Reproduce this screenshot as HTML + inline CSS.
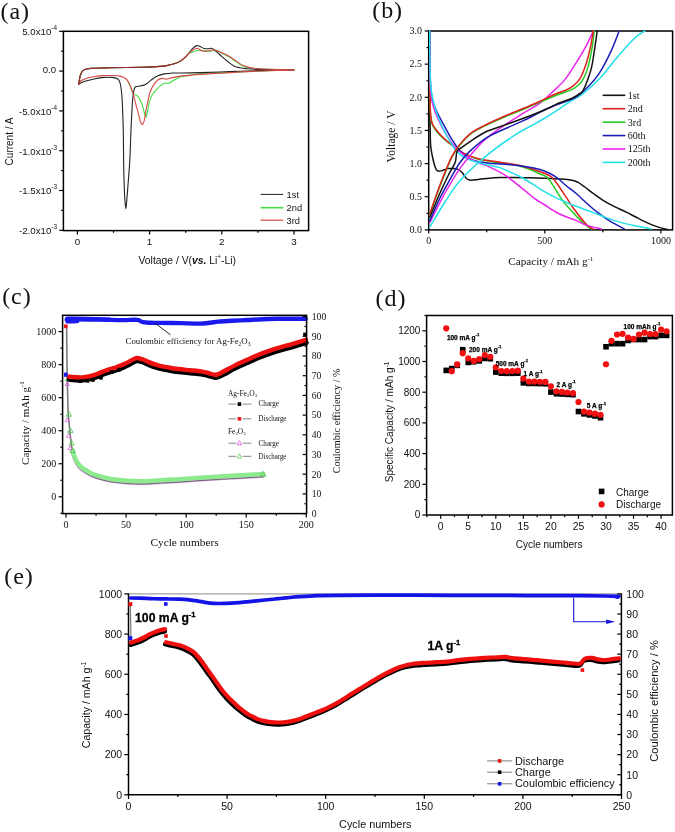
<!DOCTYPE html>
<html><head><meta charset="utf-8"><title>figure</title>
<style>html,body{margin:0;padding:0;background:#fff;}svg{display:block;will-change:transform;filter:blur(0.3px);}</style></head>
<body><svg width="675" height="832" viewBox="0 0 675 832">
<rect x="0" y="0" width="675" height="832" fill="#fff"/>
<text x="0.5" y="18.5" font-family='"Liberation Serif", serif' font-size="24" text-anchor="start" font-weight="normal" fill="#111" letter-spacing="0.9">(a)</text>
<path d="M78.7,84.2 C78.97,82.75 79.62,77.77 80.3,75.5 C80.98,73.23 81.77,71.68 82.8,70.6 C83.83,69.52 85.12,69.37 86.5,69 C87.88,68.63 87.18,68.6 91.1,68.4 C95.02,68.2 101.35,68 110,67.8 C118.65,67.6 134.67,67.43 143,67.2 C151.33,66.97 155.83,66.72 160,66.4 C164.17,66.08 165.5,65.8 168,65.3 C170.5,64.8 172.95,64.1 175,63.4 C177.05,62.7 178.63,62.08 180.3,61.1 C181.97,60.12 183.62,58.77 185,57.5 C186.38,56.23 187.35,54.42 188.6,53.5 C189.85,52.58 191.27,52.45 192.5,52 C193.73,51.55 194.75,51.1 196,50.8 C197.25,50.5 198.5,50.22 200,50.2 C201.5,50.18 203.33,50.53 205,50.7 C206.67,50.87 208.05,51.25 210,51.2 C211.95,51.15 214.87,50.13 216.7,50.4 C218.53,50.67 219.45,52 221,52.8 C222.55,53.6 224.5,54.4 226,55.2 C227.5,56 228.6,56.7 230,57.6 C231.4,58.5 232.73,59.45 234.4,60.6 C236.07,61.75 238.07,63.4 240,64.5 C241.93,65.6 243.33,66.5 246,67.2 C248.67,67.9 252,68.33 256,68.7 C260,69.07 263.67,69.18 270,69.4 C276.33,69.62 290,69.9 294,70" fill="none" stroke="#44dd44" stroke-width="1.1" stroke-linejoin="round" stroke-linecap="round"/>
<path d="M294,70 C288.33,70.17 270.67,70.6 260,71 C249.33,71.4 240,71.93 230,72.4 C220,72.87 207,73.27 200,73.8 C193,74.33 191.33,75.07 188,75.6 C184.67,76.13 182.45,76.17 180,77 C177.55,77.83 175.15,79.58 173.3,80.6 C171.45,81.62 170.38,82.65 168.9,83.1 C167.42,83.55 165.88,82.83 164.4,83.3 C162.92,83.77 161.47,84.65 160,85.9 C158.53,87.15 156.93,89.25 155.6,90.8 C154.27,92.35 153.05,93.28 152,95.2 C150.95,97.12 150.03,99.63 149.3,102.3 C148.57,104.97 148.08,108.88 147.6,111.2 C147.12,113.52 146.73,115.27 146.4,116.2 C146.07,117.13 145.88,117.07 145.6,116.8 C145.32,116.53 145.12,116.12 144.7,114.6 C144.28,113.08 143.82,110.03 143.1,107.7 C142.38,105.37 141.28,102.48 140.4,100.6 C139.52,98.72 138.77,97.4 137.8,96.4 C136.83,95.4 135.5,95.27 134.6,94.6 C133.7,93.93 133.08,93.67 132.4,92.4 C131.72,91.13 131.23,88.77 130.5,87 C129.77,85.23 128.42,82.67 128,81.8" fill="none" stroke="#44dd44" stroke-width="1.1" stroke-linejoin="round" stroke-linecap="round"/>
<path d="M78.7,84.2 C78.97,82.75 79.62,77.77 80.3,75.5 C80.98,73.23 81.77,71.68 82.8,70.6 C83.83,69.52 85.12,69.37 86.5,69 C87.88,68.63 87.18,68.6 91.1,68.4 C95.02,68.2 101.35,68 110,67.8 C118.65,67.6 134.67,67.43 143,67.2 C151.33,66.97 155.83,66.72 160,66.4 C164.17,66.08 165.5,65.8 168,65.3 C170.5,64.8 172.95,64.1 175,63.4 C177.05,62.7 178.63,62.08 180.3,61.1 C181.97,60.12 183.62,58.77 185,57.5 C186.38,56.23 187.35,54.98 188.6,53.5 C189.85,52.02 191.17,49.92 192.5,48.6 C193.83,47.28 195.35,45.95 196.6,45.6 C197.85,45.25 198.77,46.02 200,46.5 C201.23,46.98 202.67,48.12 204,48.5 C205.33,48.88 206.78,48.83 208,48.8 C209.22,48.77 210.3,48.18 211.3,48.3 C212.3,48.42 212.88,48.72 214,49.5 C215.12,50.28 216.67,51.8 218,53 C219.33,54.2 220.33,55.23 222,56.7 C223.67,58.17 225.93,60.22 228,61.8 C230.07,63.38 232.4,65.2 234.4,66.2 C236.4,67.2 238.07,67.4 240,67.8 C241.93,68.2 242.67,68.33 246,68.6 C249.33,68.87 252,69.17 260,69.4 C268,69.63 288.33,69.9 294,70" fill="none" stroke="#222" stroke-width="1.1" stroke-linejoin="round" stroke-linecap="round"/>
<path d="M294,70 C288.33,70.1 270.67,70.33 260,70.6 C249.33,70.87 240,71.27 230,71.6 C220,71.93 208.33,72.37 200,72.6 C191.67,72.83 184.45,72.93 180,73 C175.55,73.07 175.9,72.85 173.3,73 C170.7,73.15 167.07,73.38 164.4,73.9 C161.73,74.42 159.52,75.07 157.3,76.1 C155.08,77.13 152.87,78.83 151.1,80.1 C149.33,81.37 148.03,82.82 146.7,83.7 C145.37,84.58 144.58,84.97 143.1,85.4 C141.62,85.83 139.13,86 137.8,86.3 C136.47,86.6 135.8,86.25 135.1,87.2 C134.4,88.15 134.02,89.87 133.6,92 C133.18,94.13 132.87,97.1 132.6,100 C132.33,102.9 132.25,104.87 132,109.4 C131.75,113.93 131.47,118.77 131.1,127.2 C130.73,135.63 130.32,150.37 129.8,160 C129.28,169.63 128.5,178.33 128,185 C127.5,191.67 127.17,196.05 126.8,200 C126.43,203.95 126.12,208.7 125.8,208.7 C125.48,208.7 125.17,203.95 124.9,200 C124.63,196.05 124.4,190.67 124.2,185 C124,179.33 123.83,173.5 123.7,166 C123.57,158.5 123.48,146.47 123.4,140 C123.32,133.53 123.4,133.77 123.2,127.2 C123,120.63 122.57,107.22 122.2,100.6 C121.83,93.98 121.43,90.67 121,87.5 C120.57,84.33 120.18,83.05 119.6,81.6 C119.02,80.15 118.77,79.5 117.5,78.8 C116.23,78.1 114.67,77.6 112,77.4 C109.33,77.2 104.83,77.25 101.5,77.6 C98.17,77.95 94.77,78.88 92,79.5 C89.23,80.12 86.82,80.72 84.9,81.3 C82.98,81.88 81.53,82.52 80.5,83 C79.47,83.48 79,84 78.7,84.2" fill="none" stroke="#222" stroke-width="1.1" stroke-linejoin="round" stroke-linecap="round"/>
<path d="M78.7,84.2 C78.97,82.75 79.62,77.77 80.3,75.5 C80.98,73.23 81.77,71.68 82.8,70.6 C83.83,69.52 85.12,69.37 86.5,69 C87.88,68.63 87.18,68.6 91.1,68.4 C95.02,68.2 101.35,68 110,67.8 C118.65,67.6 134.67,67.43 143,67.2 C151.33,66.97 155.83,66.72 160,66.4 C164.17,66.08 165.5,65.8 168,65.3 C170.5,64.8 172.95,64.1 175,63.4 C177.05,62.7 178.63,62.08 180.3,61.1 C181.97,60.12 183.62,58.77 185,57.5 C186.38,56.23 187.35,54.7 188.6,53.5 C189.85,52.3 191.08,51.17 192.5,50.3 C193.92,49.43 195.45,48.18 197.1,48.3 C198.75,48.42 200.75,50.5 202.4,51 C204.05,51.5 205.22,51.5 207,51.3 C208.78,51.1 211.27,49.8 213.1,49.8 C214.93,49.8 216.35,50.73 218,51.3 C219.65,51.87 221.3,52.45 223,53.2 C224.7,53.95 226.37,54.75 228.2,55.8 C230.03,56.85 232.07,58.2 234,59.5 C235.93,60.8 238.13,62.55 239.8,63.6 C241.47,64.65 242.52,65.18 244,65.8 C245.48,66.42 246.7,66.85 248.7,67.3 C250.7,67.75 252.45,68.17 256,68.5 C259.55,68.83 263.67,69.05 270,69.3 C276.33,69.55 290,69.88 294,70" fill="none" stroke="#d84848" stroke-width="1.1" stroke-linejoin="round" stroke-linecap="round"/>
<path d="M294,70 C288.33,70.17 270.67,70.57 260,71 C249.33,71.43 240,72.03 230,72.6 C220,73.17 206.67,73.93 200,74.4 C193.33,74.87 193.33,75.12 190,75.4 C186.67,75.68 183.07,75.68 180,76.1 C176.93,76.52 173.9,77.4 171.6,77.9 C169.3,78.4 167.83,79.02 166.2,79.1 C164.57,79.18 163.13,78.28 161.8,78.4 C160.47,78.52 159.53,78.77 158.2,79.8 C156.87,80.83 155.13,82.62 153.8,84.6 C152.47,86.58 151.17,89.03 150.2,91.7 C149.23,94.37 148.67,97.65 148,100.6 C147.33,103.55 146.77,106.33 146.2,109.4 C145.63,112.47 145.1,116.67 144.6,119 C144.1,121.33 143.67,122.53 143.2,123.4 C142.73,124.27 142.27,124.52 141.8,124.2 C141.33,123.88 140.92,123.07 140.4,121.5 C139.88,119.93 139.43,117.55 138.7,114.8 C137.97,112.05 136.82,108.12 136,105 C135.18,101.88 134.53,98.77 133.8,96.1 C133.07,93.43 132.42,91.22 131.6,89 C130.78,86.78 129.95,84.58 128.9,82.8 C127.85,81.02 126.78,79.42 125.3,78.3 C123.82,77.18 122.22,76.57 120,76.1 C117.78,75.63 115.08,75.58 112,75.5 C108.92,75.42 104.83,75.35 101.5,75.6 C98.17,75.85 94.77,76.45 92,77 C89.23,77.55 86.82,78.23 84.9,78.9 C82.98,79.57 81.53,80.22 80.5,81 C79.47,81.78 79,83.17 78.7,83.6" fill="none" stroke="#d84848" stroke-width="1.1" stroke-linejoin="round" stroke-linecap="round"/>
<path d="M78.7,84.2 C78.97,82.75 79.62,77.77 80.3,75.5 C80.98,73.23 81.77,71.68 82.8,70.6 C83.83,69.52 85.12,69.37 86.5,69 C87.88,68.63 87.18,68.6 91.1,68.4 C95.02,68.2 101.35,68 110,67.8 C118.65,67.6 134.67,67.43 143,67.2 C151.33,66.97 155.83,66.72 160,66.4 C164.17,66.08 165.5,65.8 168,65.3 C170.5,64.8 172.95,64.1 175,63.4 C177.05,62.7 179.42,61.48 180.3,61.1" fill="none" stroke="#401010" stroke-width="1" stroke-linejoin="round" stroke-linecap="round" opacity="0.45"/>
<rect x="63.4" y="31.3" width="245.2" height="199.3" fill="none" stroke="#000" stroke-width="1.5"/>
<line x1="59.2" y1="31.3" x2="63.4" y2="31.3" stroke="#000" stroke-width="1.2"/>
<line x1="61.2" y1="51.2" x2="63.4" y2="51.2" stroke="#000" stroke-width="1.2"/>
<line x1="59.2" y1="71.1" x2="63.4" y2="71.1" stroke="#000" stroke-width="1.2"/>
<line x1="61.2" y1="91" x2="63.4" y2="91" stroke="#000" stroke-width="1.2"/>
<line x1="59.2" y1="110.9" x2="63.4" y2="110.9" stroke="#000" stroke-width="1.2"/>
<line x1="61.2" y1="130.8" x2="63.4" y2="130.8" stroke="#000" stroke-width="1.2"/>
<line x1="59.2" y1="150.7" x2="63.4" y2="150.7" stroke="#000" stroke-width="1.2"/>
<line x1="61.2" y1="170.6" x2="63.4" y2="170.6" stroke="#000" stroke-width="1.2"/>
<line x1="59.2" y1="190.5" x2="63.4" y2="190.5" stroke="#000" stroke-width="1.2"/>
<line x1="61.2" y1="210.4" x2="63.4" y2="210.4" stroke="#000" stroke-width="1.2"/>
<line x1="59.2" y1="230.3" x2="63.4" y2="230.3" stroke="#000" stroke-width="1.2"/>
<line x1="77.4" y1="230.6" x2="77.4" y2="234.6" stroke="#000" stroke-width="1.2"/>
<line x1="113.5" y1="230.6" x2="113.5" y2="232.8" stroke="#000" stroke-width="1.2"/>
<line x1="149.6" y1="230.6" x2="149.6" y2="234.6" stroke="#000" stroke-width="1.2"/>
<line x1="185.7" y1="230.6" x2="185.7" y2="232.8" stroke="#000" stroke-width="1.2"/>
<line x1="221.8" y1="230.6" x2="221.8" y2="234.6" stroke="#000" stroke-width="1.2"/>
<line x1="257.9" y1="230.6" x2="257.9" y2="232.8" stroke="#000" stroke-width="1.2"/>
<line x1="294" y1="230.6" x2="294" y2="234.6" stroke="#000" stroke-width="1.2"/>
<text x="57" y="35.2" font-family='"Liberation Sans", sans-serif' font-size="9.7" text-anchor="end" fill="#111">5.0x10<tspan font-size="6.4" dy="-4.9">-4</tspan></text>
<text x="56.1" y="72.9" font-family='"Liberation Sans", sans-serif' font-size="9.6" text-anchor="end" font-weight="normal" fill="#111">0.0</text>
<text x="57" y="114.8" font-family='"Liberation Sans", sans-serif' font-size="9.7" text-anchor="end" fill="#111">-5.0x10<tspan font-size="6.4" dy="-4.9">-4</tspan></text>
<text x="57" y="154.5" font-family='"Liberation Sans", sans-serif' font-size="9.7" text-anchor="end" fill="#111">-1.0x10<tspan font-size="6.4" dy="-4.9">-3</tspan></text>
<text x="57" y="194.3" font-family='"Liberation Sans", sans-serif' font-size="9.7" text-anchor="end" fill="#111">-1.5x10<tspan font-size="6.4" dy="-4.9">-3</tspan></text>
<text x="57" y="234" font-family='"Liberation Sans", sans-serif' font-size="9.7" text-anchor="end" fill="#111">-2.0x10<tspan font-size="6.4" dy="-4.9">-3</tspan></text>
<text x="77.4" y="245.4" font-family='"Liberation Sans", sans-serif' font-size="9.8" text-anchor="middle" font-weight="normal" fill="#111">0</text>
<text x="149.6" y="245.4" font-family='"Liberation Sans", sans-serif' font-size="9.8" text-anchor="middle" font-weight="normal" fill="#111">1</text>
<text x="221.8" y="245.4" font-family='"Liberation Sans", sans-serif' font-size="9.8" text-anchor="middle" font-weight="normal" fill="#111">2</text>
<text x="294" y="245.4" font-family='"Liberation Sans", sans-serif' font-size="9.8" text-anchor="middle" font-weight="normal" fill="#111">3</text>
<text x="138.5" y="263.6" font-family='"Liberation Sans", sans-serif' font-size="10.35" fill="#111">Voltage / V(<tspan font-style="italic" font-weight="bold">vs.</tspan> Li<tspan font-size="6.4" dy="-4.6">+</tspan><tspan dy="4.6">-Li)</tspan></text>
<text x="13.3" y="141.5" font-family='"Liberation Sans", sans-serif' font-size="10" text-anchor="middle" font-weight="normal" fill="#111" transform="rotate(-90 13.3 141.5)">Current / A</text>
<line x1="260.7" y1="194.4" x2="283.2" y2="194.4" stroke="#222" stroke-width="1"/>
<text x="286.6" y="197.8" font-family='"Liberation Sans", sans-serif' font-size="9.3" text-anchor="start" font-weight="normal" fill="#111">1st</text>
<line x1="260.7" y1="207.7" x2="283.2" y2="207.7" stroke="#44dd44" stroke-width="1.6"/>
<text x="286.6" y="211.1" font-family='"Liberation Sans", sans-serif' font-size="9.3" text-anchor="start" font-weight="normal" fill="#111">2nd</text>
<line x1="260.7" y1="220.2" x2="283.2" y2="220.2" stroke="#d84848" stroke-width="1.2"/>
<text x="286.6" y="223.6" font-family='"Liberation Sans", sans-serif' font-size="9.3" text-anchor="start" font-weight="normal" fill="#111">3rd</text>
<text x="372.3" y="17.9" font-family='"Liberation Serif", serif' font-size="24" text-anchor="start" font-weight="normal" fill="#111" letter-spacing="0.9">(b)</text>
<rect x="428.7" y="31" width="243.9" height="198.9" fill="none" stroke="#000" stroke-width="1.5"/>
<path d="M429.75,98 C429.77,100.83 429.83,110 429.9,115 C429.97,120 430.03,123 430.15,128 C430.27,133 430.28,140.5 430.6,145 C430.93,149.5 431.45,151.67 432.1,155 C432.75,158.33 433.75,162.5 434.5,165 C435.25,167.5 435.82,168.97 436.6,170 C437.38,171.03 438.13,171.17 439.2,171.2 C440.27,171.23 441.52,170.63 443,170.2 C444.48,169.77 446.43,168.88 448.1,168.6 C449.77,168.32 451.37,168.37 453,168.5 C454.63,168.63 456.35,168.68 457.9,169.4 C459.45,170.12 460.82,171.23 462.3,172.8 C463.78,174.37 465.32,177.55 466.8,178.8 C468.28,180.05 469.33,180.2 471.2,180.3 C473.07,180.4 475.33,179.72 478,179.4 C480.67,179.08 483.53,178.7 487.2,178.4 C490.87,178.1 495.55,177.77 500,177.6 C504.45,177.43 508.9,177.38 513.9,177.4 C518.9,177.42 524.97,177.57 530,177.7 C535.03,177.83 539.1,177.98 544.1,178.2 C549.1,178.42 555.35,178.67 560,179 C564.65,179.33 569,179.63 572,180.2 C575,180.77 575.87,181.27 578,182.4 C580.13,183.53 582.13,185.07 584.8,187 C587.47,188.93 590.88,191.73 594,194 C597.12,196.27 600.17,198.53 603.5,200.6 C606.83,202.67 610.2,204.47 614,206.4 C617.8,208.33 622.3,210.23 626.3,212.2 C630.3,214.17 634.2,216.3 638,218.2 C641.8,220.1 645.6,222.07 649.1,223.6 C652.6,225.13 655.88,226.4 659,227.4 C662.12,228.4 666.33,229.23 667.8,229.6" fill="none" stroke="#111" stroke-width="1.5" stroke-linejoin="round" stroke-linecap="round"/>
<path d="M429.7,31 C429.72,35.83 429.74,48.5 429.8,60 C429.86,71.5 429.91,90.67 430.05,100 C430.19,109.33 430.31,112 430.65,116 C430.99,120 431.26,121.62 432.1,124 C432.94,126.38 433.92,127.97 435.7,130.3 C437.48,132.63 439.85,135.3 442.8,138 C445.75,140.7 449.85,143.9 453.4,146.5 C456.95,149.1 459.95,151.47 464.1,153.6 C468.25,155.73 472.37,157.77 478.3,159.3 C484.23,160.83 493.18,161.77 499.7,162.8 C506.22,163.83 512.35,164.38 517.4,165.5 C522.45,166.62 526.23,168.08 530,169.5 C533.77,170.92 537.1,172.67 540,174 C542.9,175.33 545.07,175.33 547.4,177.5 C549.73,179.67 551.57,183.32 554,187 C556.43,190.68 559,195.52 562,199.6 C565,203.68 568.55,207.7 572,211.5 C575.45,215.3 580.03,219.85 582.7,222.4 C585.37,224.95 586.45,225.7 588,226.8 C589.55,227.9 591.33,228.63 592,229" fill="none" stroke="#22cc22" stroke-width="1.5" stroke-linejoin="round" stroke-linecap="round"/>
<path d="M429.7,31 C429.72,35.83 429.74,48.5 429.8,60 C429.86,71.5 429.91,90.83 430.05,100 C430.19,109.17 430.31,111.15 430.65,115 C430.99,118.85 431.26,120.72 432.1,123.1 C432.94,125.48 433.92,126.93 435.7,129.3 C437.48,131.67 439.85,134.48 442.8,137.3 C445.75,140.12 449.85,143.53 453.4,146.2 C456.95,148.87 459.95,151.22 464.1,153.3 C468.25,155.38 472.37,157.22 478.3,158.7 C484.23,160.18 493.18,161.17 499.7,162.2 C506.22,163.23 512.35,163.9 517.4,164.9 C522.45,165.9 525.55,166.82 530,168.2 C534.45,169.58 540.5,171.73 544.1,173.2 C547.7,174.67 549.28,175.03 551.6,177 C553.92,178.97 555.58,181.63 558,185 C560.42,188.37 563.43,193.2 566.1,197.2 C568.77,201.2 571.23,205.17 574,209 C576.77,212.83 580.37,217.37 582.7,220.2 C585.03,223.03 586.27,224.53 588,226 C589.73,227.47 592.25,228.5 593.1,229" fill="none" stroke="#e0201c" stroke-width="1.5" stroke-linejoin="round" stroke-linecap="round"/>
<path d="M429.7,31 C429.74,35.83 429.8,51 429.95,60 C430.1,69 430.18,78.33 430.6,85 C431.03,91.67 431.43,95.5 432.5,100 C433.57,104.5 435.28,108.15 437,112 C438.72,115.85 440.35,118.58 442.8,123.1 C445.25,127.62 448.73,134.35 451.7,139.1 C454.67,143.85 457.35,148.22 460.6,151.6 C463.85,154.98 466.77,157.48 471.2,159.4 C475.63,161.32 481.57,162.3 487.2,163.1 C492.83,163.9 498.48,163.6 505,164.2 C511.52,164.8 520.47,165.82 526.3,166.7 C532.13,167.58 536.05,168.37 540,169.5 C543.95,170.63 547,172 550,173.5 C553,175 555.33,176.5 558,178.5 C560.67,180.5 562.92,182.95 566,185.5 C569.08,188.05 573,190.8 576.5,193.8 C580,196.8 583.55,200.43 587,203.5 C590.45,206.57 593.37,209.25 597.2,212.2 C601.03,215.15 605.5,218.43 610,221.2 C614.5,223.97 621.83,227.53 624.2,228.8" fill="none" stroke="#1c1cb8" stroke-width="1.5" stroke-linejoin="round" stroke-linecap="round"/>
<path d="M429.7,40 C429.73,43.33 429.76,52.5 429.85,60 C429.94,67.5 430.02,78.92 430.25,85 C430.48,91.08 430.66,92.83 431.2,96.5 C431.74,100.17 432.47,103.5 433.5,107 C434.53,110.5 435.37,113.03 437.4,117.5 C439.43,121.97 442.58,128.67 445.7,133.8 C448.82,138.93 452.63,144.5 456.1,148.3 C459.57,152.1 462.85,154.23 466.5,156.6 C470.15,158.97 473.95,160.67 478,162.5 C482.05,164.33 486,165.28 490.8,167.6 C495.6,169.92 501.17,172.6 506.8,176.4 C512.43,180.2 519.9,186.67 524.6,190.4 C529.3,194.13 531.75,196.45 535,198.8 C538.25,201.15 540.65,202.3 544.1,204.5 C547.55,206.7 552.05,209.95 555.7,212 C559.35,214.05 562.53,215.37 566,216.8 C569.47,218.23 573.02,219.17 576.5,220.6 C579.98,222.03 582.75,224.02 586.9,225.4 C591.05,226.78 598.98,228.32 601.4,228.9" fill="none" stroke="#ee22ee" stroke-width="1.5" stroke-linejoin="round" stroke-linecap="round"/>
<path d="M429.7,31 C429.73,35.67 429.79,50.83 429.9,59 C430.01,67.17 430.13,74.8 430.35,80 C430.57,85.2 430.68,86.53 431.2,90.2 C431.72,93.87 432.47,97.85 433.5,102 C434.53,106.15 435.37,109.8 437.4,115.1 C439.43,120.4 442.58,127.92 445.7,133.8 C448.82,139.68 452.63,146.25 456.1,150.4 C459.57,154.55 462.8,156.67 466.5,158.7 C470.2,160.73 474.85,161.57 478.3,162.6 C481.75,163.63 483.63,164.07 487.2,164.9 C490.77,165.73 495.9,166.42 499.7,167.6 C503.5,168.78 506.15,170.27 510,172 C513.85,173.73 518.63,175.73 522.8,178 C526.97,180.27 531.45,183.37 535,185.6 C538.55,187.83 540.65,189.38 544.1,191.4 C547.55,193.42 551.38,195.6 555.7,197.7 C560.02,199.8 564.8,201.92 570,204 C575.2,206.08 581.57,208.2 586.9,210.2 C592.23,212.2 596.82,214.1 602,216 C607.18,217.9 612.5,219.97 618,221.6 C623.5,223.23 629.47,224.58 635,225.8 C640.53,227.02 648.5,228.38 651.2,228.9" fill="none" stroke="#22e0e8" stroke-width="1.5" stroke-linejoin="round" stroke-linecap="round"/>
<path d="M429.8,227.1 C432.33,222.92 439.87,209.85 445,202 C450.13,194.15 453.57,187.82 460.6,180 C467.63,172.18 478.32,162.5 487.2,155.1 C496.08,147.7 506.77,140.37 513.9,135.6 C521.03,130.83 524.97,129.35 530,126.5 C535.03,123.65 539.47,121.28 544.1,118.5 C548.73,115.72 553.48,112.63 557.8,109.8 C562.12,106.97 565.85,104.17 570,101.5 C574.15,98.83 577.92,97.45 582.7,93.8 C587.48,90.15 593.08,85.53 598.7,79.6 C604.32,73.67 611.37,64.13 616.4,58.2 C621.43,52.27 625.47,47.67 628.9,44 C632.33,40.33 634.33,38.37 637,36.2 C639.67,34.03 643.58,31.87 644.9,31" fill="none" stroke="#22e0e8" stroke-width="1.5" stroke-linejoin="round" stroke-linecap="round"/>
<path d="M429.8,222.7 C432.33,217.75 439.87,202.18 445,193 C450.13,183.82 455.05,175.4 460.6,167.6 C466.15,159.8 473.4,151.55 478.3,146.2 C483.2,140.85 485.55,139.05 490,135.5 C494.45,131.95 499.23,128.75 505,124.9 C510.77,121.05 518.77,116.02 524.6,112.4 C530.43,108.78 535.37,106.6 540,103.2 C544.63,99.8 548.25,95.93 552.4,92 C556.55,88.07 561.03,84.33 564.9,79.6 C568.77,74.87 572.05,69.23 575.6,63.6 C579.15,57.97 583.25,51.23 586.2,45.8 C589.15,40.37 592.12,33.47 593.3,31" fill="none" stroke="#ee22ee" stroke-width="1.5" stroke-linejoin="round" stroke-linecap="round"/>
<path d="M429.8,220.9 C431.5,217.08 436.35,205.42 440,198 C443.65,190.58 448.37,182.32 451.7,176.4 C455.03,170.48 457.05,166.63 460,162.5 C462.95,158.37 464.87,155.8 469.4,151.6 C473.93,147.4 479.78,141.75 487.2,137.3 C494.62,132.85 506.77,128.2 513.9,124.9 C521.03,121.6 524.97,119.98 530,117.5 C535.03,115.02 539.47,112.18 544.1,110 C548.73,107.82 552.55,106.52 557.8,104.4 C563.05,102.28 570.57,100.25 575.6,97.3 C580.63,94.35 584.15,90.55 588,86.7 C591.85,82.85 594.85,80.13 598.7,74.2 C602.55,68.27 607.7,58.3 611.1,51.1 C614.5,43.9 617.77,34.35 619.1,31" fill="none" stroke="#1c1cb8" stroke-width="1.5" stroke-linejoin="round" stroke-linecap="round"/>
<path d="M429.8,214.5 C431.5,209.75 436.35,195.48 440,186 C443.65,176.52 448.27,164.57 451.7,157.6 C455.13,150.63 457.35,148.22 460.6,144.2 C463.85,140.18 467.35,136.47 471.2,133.5 C475.05,130.53 478.07,129.18 483.7,126.4 C489.33,123.62 498.18,119.73 505,116.8 C511.82,113.87 518.77,111.27 524.6,108.8 C530.43,106.33 534.47,104.35 540,102 C545.53,99.65 553.3,96.45 557.8,94.7 C562.3,92.95 564.33,92.55 567,91.5 C569.67,90.45 571.33,90.1 573.8,88.4 C576.27,86.7 579.43,84.85 581.8,81.3 C584.17,77.75 586.23,73.02 588,67.1 C589.77,61.18 591.37,51.82 592.4,45.8 C593.43,39.78 593.9,33.47 594.2,31" fill="none" stroke="#22cc22" stroke-width="1.5" stroke-linejoin="round" stroke-linecap="round"/>
<path d="M429.8,213.8 C431.5,209 436.35,194.48 440,185 C443.65,175.52 448.27,163.8 451.7,156.9 C455.13,150 457.35,147.6 460.6,143.6 C463.85,139.6 467.35,135.87 471.2,132.9 C475.05,129.93 478.07,128.62 483.7,125.8 C489.33,122.98 498.18,118.97 505,116 C511.82,113.03 518.77,110.47 524.6,108 C530.43,105.53 534.77,103.57 540,101.2 C545.23,98.83 551.67,95.67 556,93.8 C560.33,91.93 563.33,91.18 566,90 C568.67,88.82 569.67,88.58 572,86.7 C574.33,84.82 577.63,82.55 580,78.7 C582.37,74.85 584.42,69.08 586.2,63.6 C587.98,58.12 589.52,51.23 590.7,45.8 C591.88,40.37 592.87,33.47 593.3,31" fill="none" stroke="#e0201c" stroke-width="1.5" stroke-linejoin="round" stroke-linecap="round"/>
<path d="M429.8,217.3 C431.5,213.25 436.97,199.88 440,193 C443.03,186.12 445.47,181.13 448,176 C450.53,170.87 453.7,166.27 455.2,162.2 C456.7,158.13 455.82,154.12 457,151.6 C458.18,149.08 459.93,148.88 462.3,147.1 C464.67,145.32 467.35,143.42 471.2,140.9 C475.05,138.38 479.77,134.67 485.4,132 C491.03,129.33 498.47,127.27 505,124.9 C511.53,122.53 518.08,120.25 524.6,117.8 C531.12,115.35 538.87,112.43 544.1,110.2 C549.33,107.97 551.35,106.4 556,104.4 C560.65,102.4 568.17,99.93 572,98.2 C575.83,96.47 577.22,95.18 579,94 C580.78,92.82 581.35,93.22 582.7,91.1 C584.05,88.98 585.62,85.3 587.1,81.3 C588.58,77.3 590.27,73.02 591.6,67.1 C592.93,61.18 594.17,51.82 595.1,45.8 C596.03,39.78 596.85,33.47 597.2,31" fill="none" stroke="#111" stroke-width="1.5" stroke-linejoin="round" stroke-linecap="round"/>
<line x1="424.7" y1="31" x2="428.7" y2="31" stroke="#000" stroke-width="1.2"/>
<line x1="426.5" y1="47.58" x2="428.7" y2="47.58" stroke="#000" stroke-width="1.2"/>
<line x1="424.7" y1="64.15" x2="428.7" y2="64.15" stroke="#000" stroke-width="1.2"/>
<line x1="426.5" y1="80.72" x2="428.7" y2="80.72" stroke="#000" stroke-width="1.2"/>
<line x1="424.7" y1="97.3" x2="428.7" y2="97.3" stroke="#000" stroke-width="1.2"/>
<line x1="426.5" y1="113.88" x2="428.7" y2="113.88" stroke="#000" stroke-width="1.2"/>
<line x1="424.7" y1="130.45" x2="428.7" y2="130.45" stroke="#000" stroke-width="1.2"/>
<line x1="426.5" y1="147.02" x2="428.7" y2="147.02" stroke="#000" stroke-width="1.2"/>
<line x1="424.7" y1="163.6" x2="428.7" y2="163.6" stroke="#000" stroke-width="1.2"/>
<line x1="426.5" y1="180.17" x2="428.7" y2="180.17" stroke="#000" stroke-width="1.2"/>
<line x1="424.7" y1="196.75" x2="428.7" y2="196.75" stroke="#000" stroke-width="1.2"/>
<line x1="426.5" y1="213.32" x2="428.7" y2="213.32" stroke="#000" stroke-width="1.2"/>
<line x1="424.7" y1="229.9" x2="428.7" y2="229.9" stroke="#000" stroke-width="1.2"/>
<text x="422" y="34.3" font-family='"Liberation Serif", serif' font-size="10" text-anchor="end" font-weight="normal" fill="#111">3.0</text>
<text x="422" y="67.45" font-family='"Liberation Serif", serif' font-size="10" text-anchor="end" font-weight="normal" fill="#111">2.5</text>
<text x="422" y="100.6" font-family='"Liberation Serif", serif' font-size="10" text-anchor="end" font-weight="normal" fill="#111">2.0</text>
<text x="422" y="133.75" font-family='"Liberation Serif", serif' font-size="10" text-anchor="end" font-weight="normal" fill="#111">1.5</text>
<text x="422" y="166.9" font-family='"Liberation Serif", serif' font-size="10" text-anchor="end" font-weight="normal" fill="#111">1.0</text>
<text x="422" y="200.05" font-family='"Liberation Serif", serif' font-size="10" text-anchor="end" font-weight="normal" fill="#111">0.5</text>
<text x="422" y="233.2" font-family='"Liberation Serif", serif' font-size="10" text-anchor="end" font-weight="normal" fill="#111">0.0</text>
<line x1="428.7" y1="229.9" x2="428.7" y2="233.5" stroke="#000" stroke-width="1.2"/>
<line x1="486.75" y1="229.9" x2="486.75" y2="232.3" stroke="#000" stroke-width="1.2"/>
<line x1="544.8" y1="229.9" x2="544.8" y2="233.5" stroke="#000" stroke-width="1.2"/>
<line x1="602.85" y1="229.9" x2="602.85" y2="232.3" stroke="#000" stroke-width="1.2"/>
<line x1="660.9" y1="229.9" x2="660.9" y2="233.5" stroke="#000" stroke-width="1.2"/>
<text x="428.7" y="243.6" font-family='"Liberation Serif", serif' font-size="10" text-anchor="middle" font-weight="normal" fill="#111">0</text>
<text x="544.8" y="243.6" font-family='"Liberation Serif", serif' font-size="10" text-anchor="middle" font-weight="normal" fill="#111">500</text>
<text x="660.9" y="243.6" font-family='"Liberation Serif", serif' font-size="10" text-anchor="middle" font-weight="normal" fill="#111">1000</text>
<text x="508.3" y="265.2" font-family='"Liberation Serif", serif' font-size="11.2" fill="#111">Capacity / mAh g<tspan font-size="7" dy="-4.5">-1</tspan></text>
<text x="394.6" y="136.5" font-family='"Liberation Serif", serif' font-size="11.5" text-anchor="middle" font-weight="normal" fill="#111" transform="rotate(-90 394.6 136.5)">Voltage / V</text>
<line x1="602.6" y1="95.3" x2="625.3" y2="95.3" stroke="#111" stroke-width="1.6"/>
<text x="627.8" y="98.8" font-family='"Liberation Serif", serif' font-size="10" text-anchor="start" font-weight="normal" fill="#111">1st</text>
<line x1="602.6" y1="108.72" x2="625.3" y2="108.72" stroke="#e0201c" stroke-width="1.6"/>
<text x="627.8" y="112.22" font-family='"Liberation Serif", serif' font-size="10" text-anchor="start" font-weight="normal" fill="#111">2nd</text>
<line x1="602.6" y1="122.14" x2="625.3" y2="122.14" stroke="#22cc22" stroke-width="1.6"/>
<text x="627.8" y="125.64" font-family='"Liberation Serif", serif' font-size="10" text-anchor="start" font-weight="normal" fill="#111">3rd</text>
<line x1="602.6" y1="135.56" x2="625.3" y2="135.56" stroke="#1c1cb8" stroke-width="1.6"/>
<text x="627.8" y="139.06" font-family='"Liberation Serif", serif' font-size="10" text-anchor="start" font-weight="normal" fill="#111">60th</text>
<line x1="602.6" y1="148.98" x2="625.3" y2="148.98" stroke="#ee22ee" stroke-width="1.6"/>
<text x="627.8" y="152.48" font-family='"Liberation Serif", serif' font-size="10" text-anchor="start" font-weight="normal" fill="#111">125th</text>
<line x1="602.6" y1="162.4" x2="625.3" y2="162.4" stroke="#22e0e8" stroke-width="1.6"/>
<text x="627.8" y="165.9" font-family='"Liberation Serif", serif' font-size="10" text-anchor="start" font-weight="normal" fill="#111">200th</text>
<text x="2.2" y="304.2" font-family='"Liberation Serif", serif' font-size="24" text-anchor="start" font-weight="normal" fill="#111" letter-spacing="0.9">(c)</text>
<polyline points="66.6,326.2 67.2,378.5 68.2,414.2 69.8,430.7 71.1,442.8 72.3,450.9" fill="none" stroke="#7a7a7a" stroke-width="1.6" stroke-linejoin="round" stroke-linecap="round"/>
<path d="M72.6,452.4 C72.92,453.42 73.63,456.37 74.5,458.5 C75.37,460.63 76.55,463.35 77.8,465.2 C79.05,467.05 80.03,468.07 82,469.6 C83.97,471.13 87.27,473.13 89.6,474.4 C91.93,475.67 93.53,476.33 96,477.2 C98.47,478.07 101.23,478.87 104.4,479.6 C107.57,480.33 111.28,481.08 115,481.6 C118.72,482.12 122.53,482.43 126.7,482.7 C130.87,482.97 136.12,483.15 140,483.2 C143.88,483.25 145.83,483.2 150,483 C154.17,482.8 160,482.3 165,482 C170,481.7 174.17,481.57 180,481.2 C185.83,480.83 193.33,480.25 200,479.8 C206.67,479.35 213.33,478.9 220,478.5 C226.67,478.1 235,477.68 240,477.4 C245,477.12 246.13,477.03 250,476.8 C253.87,476.57 261,476.13 263.2,476" fill="none" stroke="#c58bd0" stroke-width="3.5" stroke-linejoin="round" stroke-linecap="round"/>
<path d="M74.5,459.2 C75.05,460.32 76.55,464.05 77.8,465.9 C79.05,467.75 80.03,468.77 82,470.3 C83.97,471.83 87.27,473.83 89.6,475.1 C91.93,476.37 93.53,477.03 96,477.9 C98.47,478.77 101.23,479.57 104.4,480.3 C107.57,481.03 111.28,481.78 115,482.3 C118.72,482.82 122.53,483.13 126.7,483.4 C130.87,483.67 136.12,483.85 140,483.9 C143.88,483.95 145.83,483.9 150,483.7 C154.17,483.5 160,483 165,482.7 C170,482.4 174.17,482.27 180,481.9 C185.83,481.53 193.33,480.95 200,480.5 C206.67,480.05 213.33,479.6 220,479.2 C226.67,478.8 235,478.38 240,478.1 C245,477.82 246.13,477.73 250,477.5 C253.87,477.27 261,476.83 263.2,476.7" fill="none" stroke="#555" stroke-width="1" stroke-linejoin="round" stroke-linecap="round" opacity="0.75"/>
<path d="M72.6,450.4 C72.92,451.42 73.63,454.37 74.5,456.5 C75.37,458.63 76.55,461.35 77.8,463.2 C79.05,465.05 80.03,466.07 82,467.6 C83.97,469.13 87.27,471.13 89.6,472.4 C91.93,473.67 93.53,474.33 96,475.2 C98.47,476.07 101.23,476.87 104.4,477.6 C107.57,478.33 111.28,479.08 115,479.6 C118.72,480.12 122.53,480.43 126.7,480.7 C130.87,480.97 136.12,481.15 140,481.2 C143.88,481.25 145.83,481.2 150,481 C154.17,480.8 160,480.3 165,480 C170,479.7 174.17,479.57 180,479.2 C185.83,478.83 193.33,478.25 200,477.8 C206.67,477.35 213.33,476.9 220,476.5 C226.67,476.1 235,475.68 240,475.4 C245,475.12 246.13,475.03 250,474.8 C253.87,474.57 261,474.13 263.2,474" fill="none" stroke="#8eea8e" stroke-width="4.6" stroke-linejoin="round" stroke-linecap="round"/>
<path d="M68,376 L65.4,380.68 L70.6,380.68 Z" fill="none" stroke="#55cc55" stroke-width="0.9"/>
<path d="M68.9,411.5 L66.3,416.18 L71.5,416.18 Z" fill="none" stroke="#55cc55" stroke-width="0.9"/>
<path d="M70.4,427.8 L67.8,432.48 L73,432.48 Z" fill="none" stroke="#55cc55" stroke-width="0.9"/>
<path d="M71.6,440.4 L69,445.08 L74.2,445.08 Z" fill="none" stroke="#55cc55" stroke-width="0.9"/>
<path d="M72.6,447.8 L70,452.48 L75.2,452.48 Z" fill="none" stroke="#55cc55" stroke-width="0.9"/>
<path d="M263.2,471.4 L260.6,476.08 L265.8,476.08 Z" fill="none" stroke="#55cc55" stroke-width="0.9"/>
<path d="M67.3,381.6 L65.1,385.56 L69.5,385.56 Z" fill="none" stroke="#dd66dd" stroke-width="0.8"/>
<path d="M67.3,417.8 L65.1,421.76 L69.5,421.76 Z" fill="none" stroke="#dd66dd" stroke-width="0.8"/>
<path d="M68.5,433.3 L66.3,437.26 L70.7,437.26 Z" fill="none" stroke="#dd66dd" stroke-width="0.8"/>
<path d="M70,445.8 L67.8,449.76 L72.2,449.76 Z" fill="none" stroke="#dd66dd" stroke-width="0.8"/>
<path d="M69,379.5 C70.07,379.6 73.13,379.97 75.4,380.1 C77.67,380.23 80.1,380.47 82.6,380.3 C85.1,380.13 87.93,379.67 90.4,379.1 C92.87,378.53 95,377.77 97.4,376.9 C99.8,376.03 102.63,374.7 104.8,373.9 C106.97,373.1 108.42,372.72 110.4,372.1 C112.38,371.48 114.7,370.9 116.7,370.2 C118.7,369.5 120.67,368.63 122.4,367.9 C124.13,367.17 125.43,366.63 127.1,365.8 C128.77,364.97 130.68,363.72 132.4,362.9 C134.12,362.08 135.73,361.03 137.4,360.9 C139.07,360.77 140.42,361.42 142.4,362.1 C144.38,362.78 147.13,364.13 149.3,365 C151.47,365.87 153.55,366.68 155.4,367.3 C157.25,367.92 158.23,368.2 160.4,368.7 C162.57,369.2 165.4,369.77 168.4,370.3 C171.4,370.83 174.73,371.43 178.4,371.9 C182.07,372.37 186.58,372.72 190.4,373.1 C194.22,373.48 198.3,373.73 201.3,374.2 C204.3,374.67 206.1,375.32 208.4,375.9 C210.7,376.48 213.27,377.57 215.1,377.7 C216.93,377.83 217.87,377.28 219.4,376.7 C220.93,376.12 221.63,375.6 224.3,374.2 C226.97,372.8 231.58,370.2 235.4,368.3 C239.22,366.4 243.37,364.53 247.2,362.8 C251.03,361.07 254.57,359.43 258.4,357.9 C262.23,356.37 266.37,354.9 270.2,353.6 C274.03,352.3 277.57,351.25 281.4,350.1 C285.23,348.95 289.32,347.85 293.2,346.7 C297.08,345.55 302.5,343.87 304.7,343.2 C306.9,342.53 306.12,342.78 306.4,342.7" fill="none" stroke="#000" stroke-width="4.6" stroke-linejoin="round" stroke-linecap="round"/>
<path d="M68.6,376.6 C69.67,376.7 72.73,377.07 75,377.2 C77.27,377.33 79.7,377.57 82.2,377.4 C84.7,377.23 87.53,376.77 90,376.2 C92.47,375.63 94.6,374.87 97,374 C99.4,373.13 102.23,371.8 104.4,371 C106.57,370.2 108.02,369.82 110,369.2 C111.98,368.58 114.3,368 116.3,367.3 C118.3,366.6 120.27,365.73 122,365 C123.73,364.27 125.03,363.73 126.7,362.9 C128.37,362.07 130.28,360.82 132,360 C133.72,359.18 135.33,358.13 137,358 C138.67,357.87 140.02,358.52 142,359.2 C143.98,359.88 146.73,361.23 148.9,362.1 C151.07,362.97 153.15,363.78 155,364.4 C156.85,365.02 157.83,365.3 160,365.8 C162.17,366.3 165,366.87 168,367.4 C171,367.93 174.33,368.53 178,369 C181.67,369.47 186.18,369.82 190,370.2 C193.82,370.58 197.9,370.83 200.9,371.3 C203.9,371.77 205.7,372.42 208,373 C210.3,373.58 212.87,374.67 214.7,374.8 C216.53,374.93 217.47,374.38 219,373.8 C220.53,373.22 221.23,372.7 223.9,371.3 C226.57,369.9 231.18,367.3 235,365.4 C238.82,363.5 242.97,361.63 246.8,359.9 C250.63,358.17 254.17,356.53 258,355 C261.83,353.47 265.97,352 269.8,350.7 C273.63,349.4 277.17,348.35 281,347.2 C284.83,346.05 288.92,344.95 292.8,343.8 C296.68,342.65 302.1,340.97 304.3,340.3 C306.5,339.63 305.72,339.88 306,339.8" fill="none" stroke="#ec1010" stroke-width="4.4" stroke-linejoin="round" stroke-linecap="round"/>
<rect x="303.2" y="332.6" width="3" height="3.4" fill="#000" stroke="none" stroke-width="1"/>
<rect x="78.7" y="379.4" width="3.6" height="3.6" fill="#000" stroke="none" stroke-width="1"/>
<rect x="85.7" y="379" width="3.6" height="3.6" fill="#000" stroke="none" stroke-width="1"/>
<rect x="91.2" y="378.2" width="3.6" height="3.6" fill="#000" stroke="none" stroke-width="1"/>
<rect x="99.2" y="376" width="3.6" height="3.6" fill="#000" stroke="none" stroke-width="1"/>
<rect x="110.2" y="370.2" width="3.6" height="3.6" fill="#000" stroke="none" stroke-width="1"/>
<rect x="117.2" y="367.8" width="3.6" height="3.6" fill="#000" stroke="none" stroke-width="1"/>
<path d="M66.7,319.8 C68,319.73 69.2,319.43 74.5,319.4 C79.8,319.37 90.48,319.48 98.5,319.6 C106.52,319.72 116.18,320.05 122.6,320.1 C129.02,320.15 133.62,319.55 137,319.9 C140.38,320.25 140.73,321.72 142.9,322.2 C145.07,322.68 147.15,322.68 150,322.8 C152.85,322.92 155,322.85 160,322.9 C165,322.95 173.45,322.98 180,323.1 C186.55,323.22 194.3,323.65 199.3,323.6 C204.3,323.55 206.8,323.13 210,322.8 C213.2,322.47 214.83,321.93 218.5,321.6 C222.17,321.27 227.18,321.07 232,320.8 C236.82,320.53 242.4,320.27 247.4,320 C252.4,319.73 257.18,319.4 262,319.2 C266.82,319 271.63,318.88 276.3,318.8 C280.97,318.72 285.12,318.72 290,318.7 C294.88,318.68 303,318.7 305.6,318.7" fill="none" stroke="#1a1aee" stroke-width="4.4" stroke-linejoin="round" stroke-linecap="round"/>
<path d="M66.8,318.2 C68.17,318.2 70.3,318.13 75,318.2 C79.7,318.27 89.17,318.47 95,318.6 C100.83,318.73 107.5,318.93 110,319" fill="none" stroke="#1a1aee" stroke-width="3.2" stroke-linejoin="round" stroke-linecap="round"/>
<path d="M66.8,322.2 C67.5,322.23 69.13,322.47 71,322.4 C72.87,322.33 76.83,321.9 78,321.8" fill="none" stroke="#1a1aee" stroke-width="2.4" stroke-linejoin="round" stroke-linecap="round"/>
<rect x="64" y="372.6" width="3.6" height="4.2" fill="#1a1aee" stroke="none" stroke-width="1"/>
<rect x="64" y="324.4" width="3.6" height="3.8" fill="#e81818" stroke="none" stroke-width="1"/>
<line x1="155.4" y1="323.5" x2="170.5" y2="334.8" stroke="#111" stroke-width="0.9"/>
<text x="125.6" y="343.6" font-family='"Liberation Serif", serif' font-size="8.8" fill="#111">Coulombic efficiency for Ag-Fe<tspan font-size="5.5" dy="2">2</tspan><tspan dy="-2">O</tspan><tspan font-size="5.5" dy="2">3</tspan></text>
<text x="228" y="395.5" font-family='"Liberation Serif", serif' font-size="7.4" fill="#111">Ag-Fe<tspan font-size="4.8" dy="1.6">2</tspan><tspan dy="-1.6">O</tspan><tspan font-size="4.8" dy="1.6">3</tspan></text>
<text x="228" y="433.8" font-family='"Liberation Serif", serif' font-size="7.4" fill="#111">Fe<tspan font-size="4.8" dy="1.6">2</tspan><tspan dy="-1.6">O</tspan><tspan font-size="4.8" dy="1.6">3</tspan></text>
<line x1="228.5" y1="404.1" x2="236.2" y2="404.1" stroke="#777" stroke-width="0.9"/>
<line x1="242.6" y1="404.1" x2="251.3" y2="404.1" stroke="#777" stroke-width="0.9"/>
<rect x="237.6" y="402.3" width="3.6" height="3.6" fill="#000" stroke="none" stroke-width="1"/>
<text x="258.6" y="406.4" font-family='"Liberation Serif", serif' font-size="7.8" text-anchor="start" font-weight="normal" fill="#111" textLength="20.4" lengthAdjust="spacingAndGlyphs">Charge</text>
<line x1="228.5" y1="418.8" x2="236.2" y2="418.8" stroke="#777" stroke-width="0.9"/>
<line x1="242.6" y1="418.8" x2="251.3" y2="418.8" stroke="#777" stroke-width="0.9"/>
<rect x="237.6" y="417" width="3.6" height="3.6" fill="#e81818" stroke="none" stroke-width="1"/>
<text x="258.6" y="421.1" font-family='"Liberation Serif", serif' font-size="7.8" text-anchor="start" font-weight="normal" fill="#111" textLength="27.8" lengthAdjust="spacingAndGlyphs">Discharge</text>
<line x1="228.5" y1="443.2" x2="236.2" y2="443.2" stroke="#777" stroke-width="0.9"/>
<line x1="242.6" y1="443.2" x2="251.3" y2="443.2" stroke="#777" stroke-width="0.9"/>
<path d="M239.4,440.7 L237.1,444.84 L241.7,444.84 Z" fill="none" stroke="#dd55dd" stroke-width="0.8"/>
<text x="258.6" y="445.5" font-family='"Liberation Serif", serif' font-size="7.8" text-anchor="start" font-weight="normal" fill="#111" textLength="20.4" lengthAdjust="spacingAndGlyphs">Charge</text>
<line x1="228.5" y1="456.3" x2="236.2" y2="456.3" stroke="#777" stroke-width="0.9"/>
<line x1="242.6" y1="456.3" x2="251.3" y2="456.3" stroke="#777" stroke-width="0.9"/>
<path d="M239.4,453.8 L237.1,457.94 L241.7,457.94 Z" fill="none" stroke="#55cc55" stroke-width="0.8"/>
<text x="258.6" y="458.6" font-family='"Liberation Serif", serif' font-size="7.8" text-anchor="start" font-weight="normal" fill="#111" textLength="27.8" lengthAdjust="spacingAndGlyphs">Discharge</text>
<rect x="62.6" y="315.3" width="244" height="198.3" fill="none" stroke="#000" stroke-width="1.5"/>
<line x1="60.4" y1="513.32" x2="62.6" y2="513.32" stroke="#000" stroke-width="1.2"/>
<line x1="58.6" y1="496.8" x2="62.6" y2="496.8" stroke="#000" stroke-width="1.2"/>
<line x1="60.4" y1="480.28" x2="62.6" y2="480.28" stroke="#000" stroke-width="1.2"/>
<line x1="58.6" y1="463.76" x2="62.6" y2="463.76" stroke="#000" stroke-width="1.2"/>
<line x1="60.4" y1="447.24" x2="62.6" y2="447.24" stroke="#000" stroke-width="1.2"/>
<line x1="58.6" y1="430.72" x2="62.6" y2="430.72" stroke="#000" stroke-width="1.2"/>
<line x1="60.4" y1="414.2" x2="62.6" y2="414.2" stroke="#000" stroke-width="1.2"/>
<line x1="58.6" y1="397.68" x2="62.6" y2="397.68" stroke="#000" stroke-width="1.2"/>
<line x1="60.4" y1="381.16" x2="62.6" y2="381.16" stroke="#000" stroke-width="1.2"/>
<line x1="58.6" y1="364.64" x2="62.6" y2="364.64" stroke="#000" stroke-width="1.2"/>
<line x1="60.4" y1="348.12" x2="62.6" y2="348.12" stroke="#000" stroke-width="1.2"/>
<line x1="58.6" y1="331.6" x2="62.6" y2="331.6" stroke="#000" stroke-width="1.2"/>
<text x="56.2" y="500.1" font-family='"Liberation Serif", serif' font-size="10" text-anchor="end" font-weight="normal" fill="#111">0</text>
<text x="56.2" y="467.06" font-family='"Liberation Serif", serif' font-size="10" text-anchor="end" font-weight="normal" fill="#111">200</text>
<text x="56.2" y="434.02" font-family='"Liberation Serif", serif' font-size="10" text-anchor="end" font-weight="normal" fill="#111">400</text>
<text x="56.2" y="400.98" font-family='"Liberation Serif", serif' font-size="10" text-anchor="end" font-weight="normal" fill="#111">600</text>
<text x="56.2" y="367.94" font-family='"Liberation Serif", serif' font-size="10" text-anchor="end" font-weight="normal" fill="#111">800</text>
<text x="56.2" y="334.9" font-family='"Liberation Serif", serif' font-size="10" text-anchor="end" font-weight="normal" fill="#111">1000</text>
<line x1="302.6" y1="513.6" x2="306.6" y2="513.6" stroke="#000" stroke-width="1.2"/>
<line x1="304.4" y1="503.75" x2="306.6" y2="503.75" stroke="#000" stroke-width="1.2"/>
<line x1="302.6" y1="493.9" x2="306.6" y2="493.9" stroke="#000" stroke-width="1.2"/>
<line x1="304.4" y1="484.05" x2="306.6" y2="484.05" stroke="#000" stroke-width="1.2"/>
<line x1="302.6" y1="474.2" x2="306.6" y2="474.2" stroke="#000" stroke-width="1.2"/>
<line x1="304.4" y1="464.35" x2="306.6" y2="464.35" stroke="#000" stroke-width="1.2"/>
<line x1="302.6" y1="454.5" x2="306.6" y2="454.5" stroke="#000" stroke-width="1.2"/>
<line x1="304.4" y1="444.65" x2="306.6" y2="444.65" stroke="#000" stroke-width="1.2"/>
<line x1="302.6" y1="434.8" x2="306.6" y2="434.8" stroke="#000" stroke-width="1.2"/>
<line x1="304.4" y1="424.95" x2="306.6" y2="424.95" stroke="#000" stroke-width="1.2"/>
<line x1="302.6" y1="415.1" x2="306.6" y2="415.1" stroke="#000" stroke-width="1.2"/>
<line x1="304.4" y1="405.25" x2="306.6" y2="405.25" stroke="#000" stroke-width="1.2"/>
<line x1="302.6" y1="395.4" x2="306.6" y2="395.4" stroke="#000" stroke-width="1.2"/>
<line x1="304.4" y1="385.55" x2="306.6" y2="385.55" stroke="#000" stroke-width="1.2"/>
<line x1="302.6" y1="375.7" x2="306.6" y2="375.7" stroke="#000" stroke-width="1.2"/>
<line x1="304.4" y1="365.85" x2="306.6" y2="365.85" stroke="#000" stroke-width="1.2"/>
<line x1="302.6" y1="356" x2="306.6" y2="356" stroke="#000" stroke-width="1.2"/>
<line x1="304.4" y1="346.15" x2="306.6" y2="346.15" stroke="#000" stroke-width="1.2"/>
<line x1="302.6" y1="336.3" x2="306.6" y2="336.3" stroke="#000" stroke-width="1.2"/>
<line x1="304.4" y1="326.45" x2="306.6" y2="326.45" stroke="#000" stroke-width="1.2"/>
<line x1="302.6" y1="316.6" x2="306.6" y2="316.6" stroke="#000" stroke-width="1.2"/>
<text x="311.8" y="516.9" font-family='"Liberation Serif", serif' font-size="9.6" text-anchor="start" font-weight="normal" fill="#111">0</text>
<text x="311.8" y="497.2" font-family='"Liberation Serif", serif' font-size="9.6" text-anchor="start" font-weight="normal" fill="#111">10</text>
<text x="311.8" y="477.5" font-family='"Liberation Serif", serif' font-size="9.6" text-anchor="start" font-weight="normal" fill="#111">20</text>
<text x="311.8" y="457.8" font-family='"Liberation Serif", serif' font-size="9.6" text-anchor="start" font-weight="normal" fill="#111">30</text>
<text x="311.8" y="438.1" font-family='"Liberation Serif", serif' font-size="9.6" text-anchor="start" font-weight="normal" fill="#111">40</text>
<text x="311.8" y="418.4" font-family='"Liberation Serif", serif' font-size="9.6" text-anchor="start" font-weight="normal" fill="#111">50</text>
<text x="311.8" y="398.7" font-family='"Liberation Serif", serif' font-size="9.6" text-anchor="start" font-weight="normal" fill="#111">60</text>
<text x="311.8" y="379" font-family='"Liberation Serif", serif' font-size="9.6" text-anchor="start" font-weight="normal" fill="#111">70</text>
<text x="311.8" y="359.3" font-family='"Liberation Serif", serif' font-size="9.6" text-anchor="start" font-weight="normal" fill="#111">80</text>
<text x="311.8" y="339.6" font-family='"Liberation Serif", serif' font-size="9.6" text-anchor="start" font-weight="normal" fill="#111">90</text>
<text x="311.8" y="319.9" font-family='"Liberation Serif", serif' font-size="9.6" text-anchor="start" font-weight="normal" fill="#111">100</text>
<line x1="66" y1="513.6" x2="66" y2="517.4" stroke="#000" stroke-width="1.2"/>
<line x1="96.04" y1="513.6" x2="96.04" y2="515.8" stroke="#000" stroke-width="1.2"/>
<line x1="126.08" y1="513.6" x2="126.08" y2="517.4" stroke="#000" stroke-width="1.2"/>
<line x1="156.11" y1="513.6" x2="156.11" y2="515.8" stroke="#000" stroke-width="1.2"/>
<line x1="186.15" y1="513.6" x2="186.15" y2="517.4" stroke="#000" stroke-width="1.2"/>
<line x1="216.19" y1="513.6" x2="216.19" y2="515.8" stroke="#000" stroke-width="1.2"/>
<line x1="246.22" y1="513.6" x2="246.22" y2="517.4" stroke="#000" stroke-width="1.2"/>
<line x1="276.26" y1="513.6" x2="276.26" y2="515.8" stroke="#000" stroke-width="1.2"/>
<line x1="306.3" y1="513.6" x2="306.3" y2="517.4" stroke="#000" stroke-width="1.2"/>
<text x="66" y="528" font-family='"Liberation Serif", serif' font-size="10" text-anchor="middle" font-weight="normal" fill="#111">0</text>
<text x="126.08" y="528" font-family='"Liberation Serif", serif' font-size="10" text-anchor="middle" font-weight="normal" fill="#111">50</text>
<text x="186.15" y="528" font-family='"Liberation Serif", serif' font-size="10" text-anchor="middle" font-weight="normal" fill="#111">100</text>
<text x="246.22" y="528" font-family='"Liberation Serif", serif' font-size="10" text-anchor="middle" font-weight="normal" fill="#111">150</text>
<text x="306.3" y="528" font-family='"Liberation Serif", serif' font-size="10" text-anchor="middle" font-weight="normal" fill="#111">200</text>
<text x="150.5" y="545.5" font-family='"Liberation Serif", serif' font-size="11.3" text-anchor="start" font-weight="normal" fill="#111">Cycle numbers</text>
<text x="0" y="0" transform="translate(28.6 423) rotate(-90)" font-family='"Liberation Serif", serif' font-size="11" text-anchor="middle" fill="#111">Capacity / mAh g<tspan font-size="7" dy="-4.5">-1</tspan></text>
<text x="339.6" y="420.8" font-family='"Liberation Serif", serif' font-size="10.2" text-anchor="middle" font-weight="normal" fill="#111" transform="rotate(-90 339.6 420.8)">Coulombic efficiency / %</text>
<text x="375.6" y="305.5" font-family='"Liberation Serif", serif' font-size="24" text-anchor="start" font-weight="normal" fill="#111" letter-spacing="0.9">(d)</text>
<rect x="443.41" y="367.6" width="5.6" height="5.6" fill="#000" stroke="none" stroke-width="1"/>
<rect x="448.92" y="365.76" width="5.6" height="5.6" fill="#000" stroke="none" stroke-width="1"/>
<rect x="454.43" y="362.54" width="5.6" height="5.6" fill="#000" stroke="none" stroke-width="1"/>
<rect x="459.94" y="346.88" width="5.6" height="5.6" fill="#000" stroke="none" stroke-width="1"/>
<rect x="465.45" y="359.62" width="5.6" height="5.6" fill="#000" stroke="none" stroke-width="1"/>
<rect x="470.96" y="359.01" width="5.6" height="5.6" fill="#000" stroke="none" stroke-width="1"/>
<rect x="476.47" y="358.09" width="5.6" height="5.6" fill="#000" stroke="none" stroke-width="1"/>
<rect x="481.98" y="355.63" width="5.6" height="5.6" fill="#000" stroke="none" stroke-width="1"/>
<rect x="487.49" y="355.94" width="5.6" height="5.6" fill="#000" stroke="none" stroke-width="1"/>
<rect x="493" y="369.29" width="5.6" height="5.6" fill="#000" stroke="none" stroke-width="1"/>
<rect x="498.51" y="370.37" width="5.6" height="5.6" fill="#000" stroke="none" stroke-width="1"/>
<rect x="504.02" y="370.52" width="5.6" height="5.6" fill="#000" stroke="none" stroke-width="1"/>
<rect x="509.53" y="370.52" width="5.6" height="5.6" fill="#000" stroke="none" stroke-width="1"/>
<rect x="515.04" y="370.37" width="5.6" height="5.6" fill="#000" stroke="none" stroke-width="1"/>
<rect x="520.55" y="380.04" width="5.6" height="5.6" fill="#000" stroke="none" stroke-width="1"/>
<rect x="526.06" y="380.65" width="5.6" height="5.6" fill="#000" stroke="none" stroke-width="1"/>
<rect x="531.57" y="380.65" width="5.6" height="5.6" fill="#000" stroke="none" stroke-width="1"/>
<rect x="537.08" y="380.8" width="5.6" height="5.6" fill="#000" stroke="none" stroke-width="1"/>
<rect x="542.59" y="380.96" width="5.6" height="5.6" fill="#000" stroke="none" stroke-width="1"/>
<rect x="548.1" y="389.25" width="5.6" height="5.6" fill="#000" stroke="none" stroke-width="1"/>
<rect x="553.61" y="390.94" width="5.6" height="5.6" fill="#000" stroke="none" stroke-width="1"/>
<rect x="559.12" y="391.24" width="5.6" height="5.6" fill="#000" stroke="none" stroke-width="1"/>
<rect x="564.63" y="391.55" width="5.6" height="5.6" fill="#000" stroke="none" stroke-width="1"/>
<rect x="570.14" y="391.86" width="5.6" height="5.6" fill="#000" stroke="none" stroke-width="1"/>
<rect x="575.65" y="408.74" width="5.6" height="5.6" fill="#000" stroke="none" stroke-width="1"/>
<rect x="581.16" y="411.04" width="5.6" height="5.6" fill="#000" stroke="none" stroke-width="1"/>
<rect x="586.67" y="412.12" width="5.6" height="5.6" fill="#000" stroke="none" stroke-width="1"/>
<rect x="592.18" y="413.19" width="5.6" height="5.6" fill="#000" stroke="none" stroke-width="1"/>
<rect x="597.69" y="414.88" width="5.6" height="5.6" fill="#000" stroke="none" stroke-width="1"/>
<rect x="603.2" y="343.96" width="5.6" height="5.6" fill="#000" stroke="none" stroke-width="1"/>
<rect x="608.71" y="340.89" width="5.6" height="5.6" fill="#000" stroke="none" stroke-width="1"/>
<rect x="614.22" y="340.89" width="5.6" height="5.6" fill="#000" stroke="none" stroke-width="1"/>
<rect x="619.73" y="340.89" width="5.6" height="5.6" fill="#000" stroke="none" stroke-width="1"/>
<rect x="625.24" y="337.67" width="5.6" height="5.6" fill="#000" stroke="none" stroke-width="1"/>
<rect x="630.75" y="336.75" width="5.6" height="5.6" fill="#000" stroke="none" stroke-width="1"/>
<rect x="636.26" y="336.75" width="5.6" height="5.6" fill="#000" stroke="none" stroke-width="1"/>
<rect x="641.77" y="336.75" width="5.6" height="5.6" fill="#000" stroke="none" stroke-width="1"/>
<rect x="647.28" y="333.83" width="5.6" height="5.6" fill="#000" stroke="none" stroke-width="1"/>
<rect x="652.79" y="333.83" width="5.6" height="5.6" fill="#000" stroke="none" stroke-width="1"/>
<rect x="658.3" y="332.6" width="5.6" height="5.6" fill="#000" stroke="none" stroke-width="1"/>
<rect x="663.81" y="332.6" width="5.6" height="5.6" fill="#000" stroke="none" stroke-width="1"/>
<circle cx="446.21" cy="328.34" r="3.1" fill="#f21010"/>
<circle cx="451.72" cy="371.17" r="3.1" fill="#f21010"/>
<circle cx="457.23" cy="364.42" r="3.1" fill="#f21010"/>
<circle cx="462.74" cy="353.21" r="3.1" fill="#f21010"/>
<circle cx="468.25" cy="358.28" r="3.1" fill="#f21010"/>
<circle cx="473.76" cy="360.89" r="3.1" fill="#f21010"/>
<circle cx="479.27" cy="359.04" r="3.1" fill="#f21010"/>
<circle cx="484.78" cy="355.05" r="3.1" fill="#f21010"/>
<circle cx="490.29" cy="356.74" r="3.1" fill="#f21010"/>
<circle cx="495.8" cy="367.33" r="3.1" fill="#f21010"/>
<circle cx="501.31" cy="371.02" r="3.1" fill="#f21010"/>
<circle cx="506.82" cy="371.17" r="3.1" fill="#f21010"/>
<circle cx="512.33" cy="371.02" r="3.1" fill="#f21010"/>
<circle cx="517.84" cy="370.71" r="3.1" fill="#f21010"/>
<circle cx="523.35" cy="378.54" r="3.1" fill="#f21010"/>
<circle cx="528.86" cy="381.61" r="3.1" fill="#f21010"/>
<circle cx="534.37" cy="381.61" r="3.1" fill="#f21010"/>
<circle cx="539.88" cy="381.76" r="3.1" fill="#f21010"/>
<circle cx="545.39" cy="381.92" r="3.1" fill="#f21010"/>
<circle cx="550.9" cy="386.37" r="3.1" fill="#f21010"/>
<circle cx="556.41" cy="391.28" r="3.1" fill="#f21010"/>
<circle cx="561.92" cy="391.89" r="3.1" fill="#f21010"/>
<circle cx="567.43" cy="392.51" r="3.1" fill="#f21010"/>
<circle cx="572.94" cy="393.12" r="3.1" fill="#f21010"/>
<circle cx="578.45" cy="402.02" r="3.1" fill="#f21010"/>
<circle cx="583.96" cy="411.54" r="3.1" fill="#f21010"/>
<circle cx="589.47" cy="412.62" r="3.1" fill="#f21010"/>
<circle cx="594.98" cy="413.69" r="3.1" fill="#f21010"/>
<circle cx="600.49" cy="414.76" r="3.1" fill="#f21010"/>
<circle cx="606" cy="364.26" r="3.1" fill="#f21010"/>
<circle cx="611.51" cy="340.78" r="3.1" fill="#f21010"/>
<circle cx="617.02" cy="334.48" r="3.1" fill="#f21010"/>
<circle cx="622.53" cy="333.87" r="3.1" fill="#f21010"/>
<circle cx="628.04" cy="337.55" r="3.1" fill="#f21010"/>
<circle cx="633.55" cy="338.94" r="3.1" fill="#f21010"/>
<circle cx="639.06" cy="334.48" r="3.1" fill="#f21010"/>
<circle cx="644.57" cy="332.64" r="3.1" fill="#f21010"/>
<circle cx="650.08" cy="334.02" r="3.1" fill="#f21010"/>
<circle cx="655.59" cy="334.02" r="3.1" fill="#f21010"/>
<circle cx="661.1" cy="329.57" r="3.1" fill="#f21010"/>
<circle cx="666.61" cy="331.26" r="3.1" fill="#f21010"/>
<text x="446.9" y="339.6" font-family='"Liberation Sans", sans-serif' font-size="6.5" font-weight="bold" fill="#000" stroke="#000" stroke-width="0.25">100 mA g<tspan font-size="4.29" dy="-3.6">-1</tspan></text>
<text x="469" y="351.8" font-family='"Liberation Sans", sans-serif' font-size="6.5" font-weight="bold" fill="#000" stroke="#000" stroke-width="0.25">200 mA g<tspan font-size="4.29" dy="-3.6">-1</tspan></text>
<text x="495.7" y="365.6" font-family='"Liberation Sans", sans-serif' font-size="6.5" font-weight="bold" fill="#000" stroke="#000" stroke-width="0.25">500 mA g<tspan font-size="4.29" dy="-3.6">-1</tspan></text>
<text x="523.5" y="376.4" font-family='"Liberation Sans", sans-serif' font-size="6.5" font-weight="bold" fill="#000" stroke="#000" stroke-width="0.25">1 A g<tspan font-size="4.29" dy="-3.6">-1</tspan></text>
<text x="556.5" y="387" font-family='"Liberation Sans", sans-serif' font-size="6.5" font-weight="bold" fill="#000" stroke="#000" stroke-width="0.25">2 A g<tspan font-size="4.29" dy="-3.6">-1</tspan></text>
<text x="586.8" y="408.4" font-family='"Liberation Sans", sans-serif' font-size="6.5" font-weight="bold" fill="#000" stroke="#000" stroke-width="0.25">5 A g<tspan font-size="4.29" dy="-3.6">-1</tspan></text>
<text x="623.6" y="329" font-family='"Liberation Sans", sans-serif' font-size="6.5" font-weight="bold" fill="#000" stroke="#000" stroke-width="0.25">100 mAh g<tspan font-size="4.29" dy="-3.6">-1</tspan></text>
<rect x="598.8" y="488.6" width="5.6" height="5.6" fill="#000" stroke="none" stroke-width="1"/>
<circle cx="601.6" cy="504.4" r="3.1" fill="#ee1111"/>
<text x="616" y="495.6" font-family='"Liberation Sans", sans-serif' font-size="10" text-anchor="start" font-weight="normal" fill="#111">Charge</text>
<text x="616" y="508.2" font-family='"Liberation Sans", sans-serif' font-size="10" text-anchor="start" font-weight="normal" fill="#111">Discharge</text>
<rect x="426.6" y="315.5" width="245.8" height="199.5" fill="none" stroke="#000" stroke-width="1.5"/>
<line x1="422.4" y1="515" x2="426.6" y2="515" stroke="#000" stroke-width="1.2"/>
<line x1="424.4" y1="499.65" x2="426.6" y2="499.65" stroke="#000" stroke-width="1.2"/>
<line x1="422.4" y1="484.3" x2="426.6" y2="484.3" stroke="#000" stroke-width="1.2"/>
<line x1="424.4" y1="468.95" x2="426.6" y2="468.95" stroke="#000" stroke-width="1.2"/>
<line x1="422.4" y1="453.6" x2="426.6" y2="453.6" stroke="#000" stroke-width="1.2"/>
<line x1="424.4" y1="438.25" x2="426.6" y2="438.25" stroke="#000" stroke-width="1.2"/>
<line x1="422.4" y1="422.9" x2="426.6" y2="422.9" stroke="#000" stroke-width="1.2"/>
<line x1="424.4" y1="407.55" x2="426.6" y2="407.55" stroke="#000" stroke-width="1.2"/>
<line x1="422.4" y1="392.2" x2="426.6" y2="392.2" stroke="#000" stroke-width="1.2"/>
<line x1="424.4" y1="376.85" x2="426.6" y2="376.85" stroke="#000" stroke-width="1.2"/>
<line x1="422.4" y1="361.5" x2="426.6" y2="361.5" stroke="#000" stroke-width="1.2"/>
<line x1="424.4" y1="346.15" x2="426.6" y2="346.15" stroke="#000" stroke-width="1.2"/>
<line x1="422.4" y1="330.8" x2="426.6" y2="330.8" stroke="#000" stroke-width="1.2"/>
<line x1="424.4" y1="315.45" x2="426.6" y2="315.45" stroke="#000" stroke-width="1.2"/>
<text x="420.4" y="518.3" font-family='"Liberation Sans", sans-serif' font-size="10" text-anchor="end" font-weight="normal" fill="#111">0</text>
<text x="420.4" y="487.6" font-family='"Liberation Sans", sans-serif' font-size="10" text-anchor="end" font-weight="normal" fill="#111">200</text>
<text x="420.4" y="456.9" font-family='"Liberation Sans", sans-serif' font-size="10" text-anchor="end" font-weight="normal" fill="#111">400</text>
<text x="420.4" y="426.2" font-family='"Liberation Sans", sans-serif' font-size="10" text-anchor="end" font-weight="normal" fill="#111">600</text>
<text x="420.4" y="395.5" font-family='"Liberation Sans", sans-serif' font-size="10" text-anchor="end" font-weight="normal" fill="#111">800</text>
<text x="420.4" y="364.8" font-family='"Liberation Sans", sans-serif' font-size="10" text-anchor="end" font-weight="normal" fill="#111">1000</text>
<text x="420.4" y="334.1" font-family='"Liberation Sans", sans-serif' font-size="10" text-anchor="end" font-weight="normal" fill="#111">1200</text>
<line x1="426.93" y1="515" x2="426.93" y2="517.2" stroke="#000" stroke-width="1.2"/>
<line x1="440.7" y1="515" x2="440.7" y2="518.8" stroke="#000" stroke-width="1.2"/>
<line x1="454.47" y1="515" x2="454.47" y2="517.2" stroke="#000" stroke-width="1.2"/>
<line x1="468.25" y1="515" x2="468.25" y2="518.8" stroke="#000" stroke-width="1.2"/>
<line x1="482.02" y1="515" x2="482.02" y2="517.2" stroke="#000" stroke-width="1.2"/>
<line x1="495.8" y1="515" x2="495.8" y2="518.8" stroke="#000" stroke-width="1.2"/>
<line x1="509.57" y1="515" x2="509.57" y2="517.2" stroke="#000" stroke-width="1.2"/>
<line x1="523.35" y1="515" x2="523.35" y2="518.8" stroke="#000" stroke-width="1.2"/>
<line x1="537.12" y1="515" x2="537.12" y2="517.2" stroke="#000" stroke-width="1.2"/>
<line x1="550.9" y1="515" x2="550.9" y2="518.8" stroke="#000" stroke-width="1.2"/>
<line x1="564.67" y1="515" x2="564.67" y2="517.2" stroke="#000" stroke-width="1.2"/>
<line x1="578.45" y1="515" x2="578.45" y2="518.8" stroke="#000" stroke-width="1.2"/>
<line x1="592.23" y1="515" x2="592.23" y2="517.2" stroke="#000" stroke-width="1.2"/>
<line x1="606" y1="515" x2="606" y2="518.8" stroke="#000" stroke-width="1.2"/>
<line x1="619.77" y1="515" x2="619.77" y2="517.2" stroke="#000" stroke-width="1.2"/>
<line x1="633.55" y1="515" x2="633.55" y2="518.8" stroke="#000" stroke-width="1.2"/>
<line x1="647.33" y1="515" x2="647.33" y2="517.2" stroke="#000" stroke-width="1.2"/>
<line x1="661.1" y1="515" x2="661.1" y2="518.8" stroke="#000" stroke-width="1.2"/>
<text x="440.7" y="530" font-family='"Liberation Sans", sans-serif' font-size="10.4" text-anchor="middle" font-weight="normal" fill="#111">0</text>
<text x="468.25" y="530" font-family='"Liberation Sans", sans-serif' font-size="10.4" text-anchor="middle" font-weight="normal" fill="#111">5</text>
<text x="495.8" y="530" font-family='"Liberation Sans", sans-serif' font-size="10.4" text-anchor="middle" font-weight="normal" fill="#111">10</text>
<text x="523.35" y="530" font-family='"Liberation Sans", sans-serif' font-size="10.4" text-anchor="middle" font-weight="normal" fill="#111">15</text>
<text x="550.9" y="530" font-family='"Liberation Sans", sans-serif' font-size="10.4" text-anchor="middle" font-weight="normal" fill="#111">20</text>
<text x="578.45" y="530" font-family='"Liberation Sans", sans-serif' font-size="10.4" text-anchor="middle" font-weight="normal" fill="#111">25</text>
<text x="606" y="530" font-family='"Liberation Sans", sans-serif' font-size="10.4" text-anchor="middle" font-weight="normal" fill="#111">30</text>
<text x="633.55" y="530" font-family='"Liberation Sans", sans-serif' font-size="10.4" text-anchor="middle" font-weight="normal" fill="#111">35</text>
<text x="661.1" y="530" font-family='"Liberation Sans", sans-serif' font-size="10.4" text-anchor="middle" font-weight="normal" fill="#111">40</text>
<text x="515.7" y="547.8" font-family='"Liberation Sans", sans-serif' font-size="10" text-anchor="start" font-weight="normal" fill="#111">Cycle numbers</text>
<text x="0" y="0" transform="translate(392.8 422) rotate(-90)" font-family='"Liberation Sans", sans-serif' font-size="10.1" text-anchor="middle" fill="#111">Specific Capacity / mAh g<tspan font-size="6.4" dy="-4">-1</tspan></text>
<text x="4.3" y="584.2" font-family='"Liberation Serif", serif' font-size="24" text-anchor="start" font-weight="normal" fill="#111" letter-spacing="0.9">(e)</text>
<line x1="128.5" y1="593.9" x2="621.4" y2="593.9" stroke="#8a8a8a" stroke-width="1"/>
<line x1="128.5" y1="593.5" x2="128.5" y2="794.8" stroke="#000" stroke-width="1.5"/>
<line x1="621.4" y1="593.5" x2="621.4" y2="794.8" stroke="#000" stroke-width="1.5"/>
<line x1="127.8" y1="794.8" x2="622.1" y2="794.8" stroke="#000" stroke-width="1.5"/>
<line x1="130.3" y1="604.3" x2="131" y2="642" stroke="#7a7a7a" stroke-width="1.2"/>
<path d="M130.8,644.8 C132,644.4 135.63,643.33 138,642.4 C140.37,641.47 143,640.2 145,639.2 C147,638.2 148.23,637.27 150,636.4 C151.77,635.53 153.93,634.67 155.6,634 C157.27,633.33 158.43,632.83 160,632.4 C161.57,631.97 164.17,631.57 165,631.4" fill="none" stroke="#000" stroke-width="4.4" stroke-linejoin="round" stroke-linecap="round"/>
<path d="M165.1,644.2 C166.1,644.43 168.65,645.03 171.1,645.6 C173.55,646.17 177.3,646.83 179.8,647.6 C182.3,648.37 184.02,649.17 186.1,650.2 C188.18,651.23 190.55,652.5 192.3,653.8 C194.05,655.1 195.22,656.45 196.6,658 C197.98,659.55 199.1,661.07 200.6,663.1 C202.1,665.13 203.87,667.78 205.6,670.2 C207.33,672.62 209.25,675.13 211,677.6 C212.75,680.07 214.38,682.57 216.1,685 C217.82,687.43 219.55,689.97 221.3,692.2 C223.05,694.43 224.87,696.5 226.6,698.4 C228.33,700.3 229.95,701.9 231.7,703.6 C233.45,705.3 235.37,707.1 237.1,708.6 C238.83,710.1 240.43,711.33 242.1,712.6 C243.77,713.87 245.37,715.13 247.1,716.2 C248.83,717.27 250.75,718.13 252.5,719 C254.25,719.87 255.88,720.75 257.6,721.4 C259.32,722.05 261.05,722.48 262.8,722.9 C264.55,723.32 266.38,723.65 268.1,723.9 C269.82,724.15 271.27,724.3 273.1,724.4 C274.93,724.5 277.1,724.55 279.1,724.5 C281.1,724.45 283.1,724.33 285.1,724.1 C287.1,723.87 289.1,723.53 291.1,723.1 C293.1,722.67 295.1,722.13 297.1,721.5 C299.1,720.87 301.1,720.05 303.1,719.3 C305.1,718.55 307.1,717.78 309.1,717 C311.1,716.22 313.1,715.4 315.1,714.6 C317.1,713.8 319.1,713.03 321.1,712.2 C323.1,711.37 325.1,710.53 327.1,709.6 C329.1,708.67 331.1,707.67 333.1,706.6 C335.1,705.53 337.1,704.38 339.1,703.2 C341.1,702.02 343.1,700.77 345.1,699.5 C347.1,698.23 349.1,696.87 351.1,695.6 C353.1,694.33 355.1,693.13 357.1,691.9 C359.1,690.67 361.1,689.42 363.1,688.2 C365.1,686.98 367.1,685.8 369.1,684.6 C371.1,683.4 373.1,682.18 375.1,681 C377.1,679.82 379.1,678.6 381.1,677.5 C383.1,676.4 385.1,675.4 387.1,674.4 C389.1,673.4 391.1,672.4 393.1,671.5 C395.1,670.6 397.1,669.72 399.1,669 C401.1,668.28 403.1,667.7 405.1,667.2 C407.1,666.7 409.1,666.32 411.1,666 C413.1,665.68 415.1,665.48 417.1,665.3 C419.1,665.12 421.1,665.02 423.1,664.9 C425.1,664.78 426.93,664.72 429.1,664.6 C431.27,664.48 433.23,664.37 436.1,664.2 C438.97,664.03 442.8,663.93 446.3,663.6 C449.8,663.27 453.63,662.6 457.1,662.2 C460.57,661.8 463.77,661.5 467.1,661.2 C470.43,660.9 473.65,660.67 477.1,660.4 C480.55,660.13 484.63,659.77 487.8,659.6 C490.97,659.43 493.33,659.53 496.1,659.4 C498.87,659.27 501.73,658.67 504.4,658.8 C507.07,658.93 508.82,659.8 512.1,660.2 C515.38,660.6 520.77,660.93 524.1,661.2 C527.43,661.47 529.35,661.57 532.1,661.8 C534.85,662.03 536.93,662.27 540.6,662.6 C544.27,662.93 549.85,663.43 554.1,663.8 C558.35,664.17 562.13,664.47 566.1,664.8 C570.07,665.13 575.48,665.83 577.9,665.8 C580.32,665.77 579.57,665.47 580.6,664.6 C581.63,663.73 582.35,661.4 584.1,660.6 C585.85,659.8 588.93,659.67 591.1,659.8 C593.27,659.93 595.15,661.03 597.1,661.4 C599.05,661.77 600.47,662.03 602.8,662 C605.13,661.97 608.5,661.47 611.1,661.2 C613.7,660.93 617.18,660.53 618.4,660.4" fill="none" stroke="#000" stroke-width="4.4" stroke-linejoin="round" stroke-linecap="round"/>
<path d="M130.8,642.6 C132,642.2 135.63,641.13 138,640.2 C140.37,639.27 143,638 145,637 C147,636 148.23,635.07 150,634.2 C151.77,633.33 153.93,632.47 155.6,631.8 C157.27,631.13 158.43,630.63 160,630.2 C161.57,629.77 164.17,629.37 165,629.2" fill="none" stroke="#ee0f0f" stroke-width="4.2" stroke-linejoin="round" stroke-linecap="round"/>
<path d="M166,642.2 C167,642.43 169.55,643.03 172,643.6 C174.45,644.17 178.2,644.83 180.7,645.6 C183.2,646.37 184.92,647.17 187,648.2 C189.08,649.23 191.45,650.5 193.2,651.8 C194.95,653.1 196.12,654.45 197.5,656 C198.88,657.55 200,659.07 201.5,661.1 C203,663.13 204.77,665.78 206.5,668.2 C208.23,670.62 210.15,673.13 211.9,675.6 C213.65,678.07 215.28,680.57 217,683 C218.72,685.43 220.45,687.97 222.2,690.2 C223.95,692.43 225.77,694.5 227.5,696.4 C229.23,698.3 230.85,699.9 232.6,701.6 C234.35,703.3 236.27,705.1 238,706.6 C239.73,708.1 241.33,709.33 243,710.6 C244.67,711.87 246.27,713.13 248,714.2 C249.73,715.27 251.65,716.13 253.4,717 C255.15,717.87 256.78,718.75 258.5,719.4 C260.22,720.05 261.95,720.48 263.7,720.9 C265.45,721.32 267.28,721.65 269,721.9 C270.72,722.15 272.17,722.3 274,722.4 C275.83,722.5 278,722.55 280,722.5 C282,722.45 284,722.33 286,722.1 C288,721.87 290,721.53 292,721.1 C294,720.67 296,720.13 298,719.5 C300,718.87 302,718.05 304,717.3 C306,716.55 308,715.78 310,715 C312,714.22 314,713.4 316,712.6 C318,711.8 320,711.03 322,710.2 C324,709.37 326,708.53 328,707.6 C330,706.67 332,705.67 334,704.6 C336,703.53 338,702.38 340,701.2 C342,700.02 344,698.77 346,697.5 C348,696.23 350,694.87 352,693.6 C354,692.33 356,691.13 358,689.9 C360,688.67 362,687.42 364,686.2 C366,684.98 368,683.8 370,682.6 C372,681.4 374,680.18 376,679 C378,677.82 380,676.6 382,675.5 C384,674.4 386,673.4 388,672.4 C390,671.4 392,670.4 394,669.5 C396,668.6 398,667.72 400,667 C402,666.28 404,665.7 406,665.2 C408,664.7 410,664.32 412,664 C414,663.68 416,663.48 418,663.3 C420,663.12 422,663.02 424,662.9 C426,662.78 427.83,662.72 430,662.6 C432.17,662.48 434.13,662.37 437,662.2 C439.87,662.03 443.7,661.93 447.2,661.6 C450.7,661.27 454.53,660.6 458,660.2 C461.47,659.8 464.67,659.5 468,659.2 C471.33,658.9 474.55,658.67 478,658.4 C481.45,658.13 485.53,657.77 488.7,657.6 C491.87,657.43 494.23,657.53 497,657.4 C499.77,657.27 502.63,656.67 505.3,656.8 C507.97,656.93 509.72,657.8 513,658.2 C516.28,658.6 521.67,658.93 525,659.2 C528.33,659.47 530.25,659.57 533,659.8 C535.75,660.03 537.83,660.27 541.5,660.6 C545.17,660.93 550.75,661.43 555,661.8 C559.25,662.17 563.03,662.47 567,662.8 C570.97,663.13 576.38,663.83 578.8,663.8 C581.22,663.77 580.47,663.47 581.5,662.6 C582.53,661.73 583.25,659.4 585,658.6 C586.75,657.8 589.83,657.67 592,657.8 C594.17,657.93 596.05,659.03 598,659.4 C599.95,659.77 601.37,660.03 603.7,660 C606.03,659.97 609.4,659.47 612,659.2 C614.6,658.93 618.08,658.53 619.3,658.4" fill="none" stroke="#ee0f0f" stroke-width="4.2" stroke-linejoin="round" stroke-linecap="round"/>
<rect x="128.3" y="602.2" width="4" height="4" fill="#ee1111" stroke="none" stroke-width="1"/>
<rect x="164.2" y="634.2" width="3.6" height="3.6" fill="#ee1111" stroke="none" stroke-width="1"/>
<rect x="580.6" y="668.3" width="3.6" height="3.6" fill="#ee1111" stroke="none" stroke-width="1"/>
<path d="M130.6,598 C132.17,598.03 136.77,598.1 140,598.2 C143.23,598.3 146.67,598.48 150,598.6 C153.33,598.72 156.67,598.83 160,598.9 C163.33,598.97 166.67,598.95 170,599 C173.33,599.05 177.13,599.1 180,599.2 C182.87,599.3 184.7,599.37 187.2,599.6 C189.7,599.83 192.03,600.13 195,600.6 C197.97,601.07 201.8,601.93 205,602.4 C208.2,602.87 210.87,603.23 214.2,603.4 C217.53,603.57 220.85,603.53 225,603.4 C229.15,603.27 234.6,602.93 239.1,602.6 C243.6,602.27 247.68,601.83 252,601.4 C256.32,600.97 261,600.42 265,600 C269,599.58 272.48,599.25 276,598.9 C279.52,598.55 282.1,598.28 286.1,597.9 C290.1,597.52 294.82,596.98 300,596.6 C305.18,596.22 310.53,595.82 317.2,595.6 C323.87,595.38 327.03,595.37 340,595.3 C352.97,595.23 376.67,595.2 395,595.2 C413.33,595.2 432.5,595.27 450,595.3 C467.5,595.33 485,595.35 500,595.4 C515,595.45 526.67,595.55 540,595.6 C553.33,595.65 569.17,595.63 580,595.7 C590.83,595.77 598.5,595.9 605,596 C611.5,596.1 616.67,596.25 619,596.3" fill="none" stroke="#1414e8" stroke-width="3.7" stroke-linejoin="round" stroke-linecap="round"/>
<rect x="128.3" y="636.2" width="4" height="4" fill="#1414e8" stroke="none" stroke-width="1"/>
<rect x="164" y="602.2" width="3.6" height="3.6" fill="#1414e8" stroke="none" stroke-width="1"/>
<rect x="615.5" y="595" width="3.6" height="3.8" fill="#1414e8" stroke="none" stroke-width="1"/>
<polyline points="573.7,598.4 573.7,621.7 608,621.7" fill="none" stroke="#1616dd" stroke-width="1.1" stroke-linejoin="round" stroke-linecap="round"/>
<path d="M606.2,619.4 L615.2,621.7 L606.2,624.0 Z" fill="#1616dd"/>
<text x="135.1" y="622.4" font-family='"Liberation Sans", sans-serif' font-size="12.2" font-weight="bold" fill="#000" stroke="#000" stroke-width="0.3">100 mA g<tspan font-size="7.6" dy="-5">-1</tspan></text>
<text x="427.5" y="650.4" font-family='"Liberation Sans", sans-serif' font-size="12.2" font-weight="bold" fill="#000" stroke="#000" stroke-width="0.3">1A g<tspan font-size="7.6" dy="-5">-1</tspan></text>
<line x1="487.1" y1="760.9" x2="512.2" y2="760.9" stroke="#707070" stroke-width="0.9"/>
<rect x="497.8" y="759.1" width="3.6" height="3.6" fill="#ee1111" stroke="none" stroke-width="1"/>
<text x="515" y="764.5" font-family='"Liberation Sans", sans-serif' font-size="10.9" text-anchor="start" font-weight="normal" fill="#111">Discharge</text>
<line x1="487.1" y1="772.2" x2="512.2" y2="772.2" stroke="#707070" stroke-width="0.9"/>
<rect x="497.8" y="770.4" width="3.6" height="3.6" fill="#000" stroke="none" stroke-width="1"/>
<text x="515" y="775.8" font-family='"Liberation Sans", sans-serif' font-size="10.9" text-anchor="start" font-weight="normal" fill="#111">Charge</text>
<line x1="487.1" y1="783.8" x2="512.2" y2="783.8" stroke="#707070" stroke-width="0.9"/>
<rect x="497.8" y="782" width="3.6" height="3.6" fill="#1414e8" stroke="none" stroke-width="1"/>
<text x="515" y="787.4" font-family='"Liberation Sans", sans-serif' font-size="10.9" text-anchor="start" font-weight="normal" fill="#111">Coulombic efficiency</text>
<line x1="124.3" y1="794.8" x2="128.5" y2="794.8" stroke="#000" stroke-width="1.2"/>
<line x1="126.3" y1="774.71" x2="128.5" y2="774.71" stroke="#000" stroke-width="1.2"/>
<line x1="124.3" y1="754.62" x2="128.5" y2="754.62" stroke="#000" stroke-width="1.2"/>
<line x1="126.3" y1="734.53" x2="128.5" y2="734.53" stroke="#000" stroke-width="1.2"/>
<line x1="124.3" y1="714.44" x2="128.5" y2="714.44" stroke="#000" stroke-width="1.2"/>
<line x1="126.3" y1="694.35" x2="128.5" y2="694.35" stroke="#000" stroke-width="1.2"/>
<line x1="124.3" y1="674.26" x2="128.5" y2="674.26" stroke="#000" stroke-width="1.2"/>
<line x1="126.3" y1="654.17" x2="128.5" y2="654.17" stroke="#000" stroke-width="1.2"/>
<line x1="124.3" y1="634.08" x2="128.5" y2="634.08" stroke="#000" stroke-width="1.2"/>
<line x1="126.3" y1="613.99" x2="128.5" y2="613.99" stroke="#000" stroke-width="1.2"/>
<line x1="124.3" y1="593.9" x2="128.5" y2="593.9" stroke="#000" stroke-width="1.2"/>
<text x="122.2" y="798.6" font-family='"Liberation Sans", sans-serif' font-size="10.5" text-anchor="end" font-weight="normal" fill="#111">0</text>
<text x="122.2" y="758.42" font-family='"Liberation Sans", sans-serif' font-size="10.5" text-anchor="end" font-weight="normal" fill="#111">200</text>
<text x="122.2" y="718.24" font-family='"Liberation Sans", sans-serif' font-size="10.5" text-anchor="end" font-weight="normal" fill="#111">400</text>
<text x="122.2" y="678.06" font-family='"Liberation Sans", sans-serif' font-size="10.5" text-anchor="end" font-weight="normal" fill="#111">600</text>
<text x="122.2" y="637.88" font-family='"Liberation Sans", sans-serif' font-size="10.5" text-anchor="end" font-weight="normal" fill="#111">800</text>
<text x="122.2" y="597.7" font-family='"Liberation Sans", sans-serif' font-size="10.5" text-anchor="end" font-weight="normal" fill="#111">1000</text>
<line x1="617.2" y1="794.8" x2="621.4" y2="794.8" stroke="#000" stroke-width="1.2"/>
<line x1="619.2" y1="784.75" x2="621.4" y2="784.75" stroke="#000" stroke-width="1.2"/>
<line x1="617.2" y1="774.71" x2="621.4" y2="774.71" stroke="#000" stroke-width="1.2"/>
<line x1="619.2" y1="764.66" x2="621.4" y2="764.66" stroke="#000" stroke-width="1.2"/>
<line x1="617.2" y1="754.62" x2="621.4" y2="754.62" stroke="#000" stroke-width="1.2"/>
<line x1="619.2" y1="744.57" x2="621.4" y2="744.57" stroke="#000" stroke-width="1.2"/>
<line x1="617.2" y1="734.53" x2="621.4" y2="734.53" stroke="#000" stroke-width="1.2"/>
<line x1="619.2" y1="724.48" x2="621.4" y2="724.48" stroke="#000" stroke-width="1.2"/>
<line x1="617.2" y1="714.44" x2="621.4" y2="714.44" stroke="#000" stroke-width="1.2"/>
<line x1="619.2" y1="704.39" x2="621.4" y2="704.39" stroke="#000" stroke-width="1.2"/>
<line x1="617.2" y1="694.35" x2="621.4" y2="694.35" stroke="#000" stroke-width="1.2"/>
<line x1="619.2" y1="684.3" x2="621.4" y2="684.3" stroke="#000" stroke-width="1.2"/>
<line x1="617.2" y1="674.26" x2="621.4" y2="674.26" stroke="#000" stroke-width="1.2"/>
<line x1="619.2" y1="664.21" x2="621.4" y2="664.21" stroke="#000" stroke-width="1.2"/>
<line x1="617.2" y1="654.17" x2="621.4" y2="654.17" stroke="#000" stroke-width="1.2"/>
<line x1="619.2" y1="644.12" x2="621.4" y2="644.12" stroke="#000" stroke-width="1.2"/>
<line x1="617.2" y1="634.08" x2="621.4" y2="634.08" stroke="#000" stroke-width="1.2"/>
<line x1="619.2" y1="624.03" x2="621.4" y2="624.03" stroke="#000" stroke-width="1.2"/>
<line x1="617.2" y1="613.99" x2="621.4" y2="613.99" stroke="#000" stroke-width="1.2"/>
<line x1="619.2" y1="603.94" x2="621.4" y2="603.94" stroke="#000" stroke-width="1.2"/>
<line x1="617.2" y1="593.9" x2="621.4" y2="593.9" stroke="#000" stroke-width="1.2"/>
<text x="626.3" y="798.6" font-family='"Liberation Sans", sans-serif' font-size="10.5" text-anchor="start" font-weight="normal" fill="#111">0</text>
<text x="626.3" y="778.51" font-family='"Liberation Sans", sans-serif' font-size="10.5" text-anchor="start" font-weight="normal" fill="#111">10</text>
<text x="626.3" y="758.42" font-family='"Liberation Sans", sans-serif' font-size="10.5" text-anchor="start" font-weight="normal" fill="#111">20</text>
<text x="626.3" y="738.33" font-family='"Liberation Sans", sans-serif' font-size="10.5" text-anchor="start" font-weight="normal" fill="#111">30</text>
<text x="626.3" y="718.24" font-family='"Liberation Sans", sans-serif' font-size="10.5" text-anchor="start" font-weight="normal" fill="#111">40</text>
<text x="626.3" y="698.15" font-family='"Liberation Sans", sans-serif' font-size="10.5" text-anchor="start" font-weight="normal" fill="#111">50</text>
<text x="626.3" y="678.06" font-family='"Liberation Sans", sans-serif' font-size="10.5" text-anchor="start" font-weight="normal" fill="#111">60</text>
<text x="626.3" y="657.97" font-family='"Liberation Sans", sans-serif' font-size="10.5" text-anchor="start" font-weight="normal" fill="#111">70</text>
<text x="626.3" y="637.88" font-family='"Liberation Sans", sans-serif' font-size="10.5" text-anchor="start" font-weight="normal" fill="#111">80</text>
<text x="626.3" y="617.79" font-family='"Liberation Sans", sans-serif' font-size="10.5" text-anchor="start" font-weight="normal" fill="#111">90</text>
<text x="626.3" y="597.7" font-family='"Liberation Sans", sans-serif' font-size="10.5" text-anchor="start" font-weight="normal" fill="#111">100</text>
<line x1="128.5" y1="794.8" x2="128.5" y2="799" stroke="#000" stroke-width="1.2"/>
<line x1="177.8" y1="794.8" x2="177.8" y2="797" stroke="#000" stroke-width="1.2"/>
<line x1="227.1" y1="794.8" x2="227.1" y2="799" stroke="#000" stroke-width="1.2"/>
<line x1="276.4" y1="794.8" x2="276.4" y2="797" stroke="#000" stroke-width="1.2"/>
<line x1="325.7" y1="794.8" x2="325.7" y2="799" stroke="#000" stroke-width="1.2"/>
<line x1="375" y1="794.8" x2="375" y2="797" stroke="#000" stroke-width="1.2"/>
<line x1="424.3" y1="794.8" x2="424.3" y2="799" stroke="#000" stroke-width="1.2"/>
<line x1="473.6" y1="794.8" x2="473.6" y2="797" stroke="#000" stroke-width="1.2"/>
<line x1="522.9" y1="794.8" x2="522.9" y2="799" stroke="#000" stroke-width="1.2"/>
<line x1="572.2" y1="794.8" x2="572.2" y2="797" stroke="#000" stroke-width="1.2"/>
<line x1="621.5" y1="794.8" x2="621.5" y2="799" stroke="#000" stroke-width="1.2"/>
<text x="128.5" y="809.6" font-family='"Liberation Sans", sans-serif' font-size="10.5" text-anchor="middle" font-weight="normal" fill="#111">0</text>
<text x="227.1" y="809.6" font-family='"Liberation Sans", sans-serif' font-size="10.5" text-anchor="middle" font-weight="normal" fill="#111">50</text>
<text x="325.7" y="809.6" font-family='"Liberation Sans", sans-serif' font-size="10.5" text-anchor="middle" font-weight="normal" fill="#111">100</text>
<text x="424.3" y="809.6" font-family='"Liberation Sans", sans-serif' font-size="10.5" text-anchor="middle" font-weight="normal" fill="#111">150</text>
<text x="522.9" y="809.6" font-family='"Liberation Sans", sans-serif' font-size="10.5" text-anchor="middle" font-weight="normal" fill="#111">200</text>
<text x="621.5" y="809.6" font-family='"Liberation Sans", sans-serif' font-size="10.5" text-anchor="middle" font-weight="normal" fill="#111">250</text>
<text x="339.1" y="828" font-family='"Liberation Sans", sans-serif' font-size="10.85" text-anchor="start" font-weight="normal" fill="#111">Cycle numbers</text>
<text x="0" y="0" transform="translate(90.4 705) rotate(-90)" font-family='"Liberation Sans", sans-serif' font-size="10.6" text-anchor="middle" fill="#111">Capacity / mAh g<tspan font-size="6.6" dy="-4.2">-1</tspan></text>
<text x="657.7" y="701" font-family='"Liberation Sans", sans-serif' font-size="11.2" text-anchor="middle" font-weight="normal" fill="#111" transform="rotate(-90 657.7 701)">Coulombic efficiency / %</text>
</svg></body></html>
